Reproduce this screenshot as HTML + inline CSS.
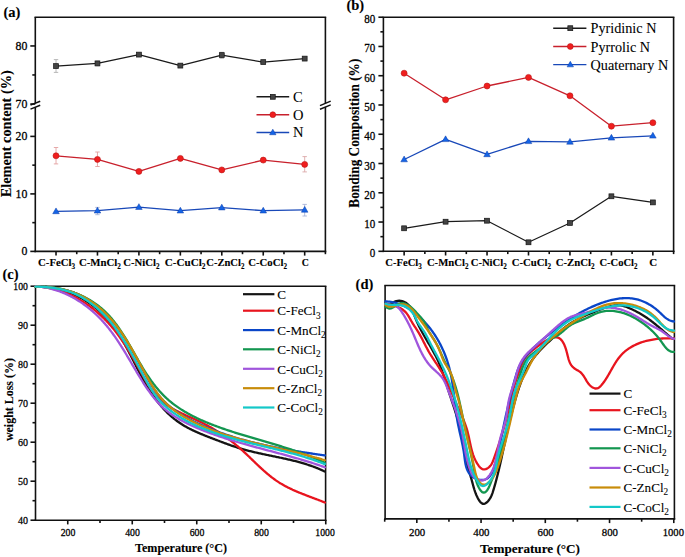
<!DOCTYPE html>
<html><head><meta charset="utf-8"><title>Figure</title>
<style>html,body{margin:0;padding:0;background:#fff;}svg{display:block;}svg text{stroke:#000;stroke-width:0.28px;}svg text.b{stroke-width:0.12px;}svg text.l{stroke-width:0.08px;}</style></head>
<body><svg width="685" height="557" viewBox="0 0 685 557">
<rect width="685" height="557" fill="#fff"/>
<line x1="34.5" y1="17.2" x2="326.2" y2="17.2" stroke="#111" stroke-width="1.6" />
<line x1="35.3" y1="17.2" x2="35.3" y2="103.2" stroke="#111" stroke-width="1.6" />
<line x1="35.3" y1="107.2" x2="35.3" y2="252.2" stroke="#111" stroke-width="1.6" />
<line x1="325.4" y1="17.2" x2="325.4" y2="103.3" stroke="#111" stroke-width="1.6" />
<line x1="325.4" y1="107.1" x2="325.4" y2="252.2" stroke="#111" stroke-width="1.6" />
<line x1="34.5" y1="251.4" x2="326.2" y2="251.4" stroke="#111" stroke-width="1.6" />
<line x1="30.5" y1="105.1" x2="40.2" y2="101.3" stroke="#111" stroke-width="1.5" />
<line x1="30.5" y1="109.1" x2="40.2" y2="105.3" stroke="#111" stroke-width="1.5" />
<line x1="320" y1="105.6" x2="330.7" y2="101.1" stroke="#111" stroke-width="1.5" />
<line x1="320" y1="109.3" x2="330.7" y2="104.9" stroke="#111" stroke-width="1.5" />
<line x1="30.3" y1="45.95" x2="35.3" y2="45.95" stroke="#111" stroke-width="1.6" />
<line x1="32.3" y1="74.95" x2="35.3" y2="74.95" stroke="#111" stroke-width="1.6" />
<line x1="30.3" y1="104" x2="35.3" y2="104" stroke="#111" stroke-width="1.6" />
<line x1="30.3" y1="136.4" x2="35.3" y2="136.4" stroke="#111" stroke-width="1.6" />
<line x1="30.3" y1="193.9" x2="35.3" y2="193.9" stroke="#111" stroke-width="1.6" />
<line x1="30.3" y1="251.4" x2="35.3" y2="251.4" stroke="#111" stroke-width="1.6" />
<line x1="32.3" y1="165.15" x2="35.3" y2="165.15" stroke="#111" stroke-width="1.6" />
<line x1="32.3" y1="222.65" x2="35.3" y2="222.65" stroke="#111" stroke-width="1.6" />
<text x="27.3" y="49.95" font-family='"Liberation Serif", serif' font-size="11.8" font-weight="normal" text-anchor="end" fill="#000" >80</text>
<text x="27.3" y="108" font-family='"Liberation Serif", serif' font-size="11.8" font-weight="normal" text-anchor="end" fill="#000" >70</text>
<text x="27.3" y="140.4" font-family='"Liberation Serif", serif' font-size="11.8" font-weight="normal" text-anchor="end" fill="#000" >20</text>
<text x="27.3" y="197.9" font-family='"Liberation Serif", serif' font-size="11.8" font-weight="normal" text-anchor="end" fill="#000" >10</text>
<text x="27.3" y="255.4" font-family='"Liberation Serif", serif' font-size="11.8" font-weight="normal" text-anchor="end" fill="#000" >0</text>
<line x1="56.02" y1="251.4" x2="56.02" y2="255.6" stroke="#111" stroke-width="1.6" />
<line x1="97.46" y1="251.4" x2="97.46" y2="255.6" stroke="#111" stroke-width="1.6" />
<line x1="138.91" y1="251.4" x2="138.91" y2="255.6" stroke="#111" stroke-width="1.6" />
<line x1="180.35" y1="251.4" x2="180.35" y2="255.6" stroke="#111" stroke-width="1.6" />
<line x1="221.79" y1="251.4" x2="221.79" y2="255.6" stroke="#111" stroke-width="1.6" />
<line x1="263.24" y1="251.4" x2="263.24" y2="255.6" stroke="#111" stroke-width="1.6" />
<line x1="304.68" y1="251.4" x2="304.68" y2="255.6" stroke="#111" stroke-width="1.6" />
<line x1="76.74" y1="251.4" x2="76.74" y2="254.2" stroke="#111" stroke-width="1.6" />
<line x1="118.19" y1="251.4" x2="118.19" y2="254.2" stroke="#111" stroke-width="1.6" />
<line x1="159.63" y1="251.4" x2="159.63" y2="254.2" stroke="#111" stroke-width="1.6" />
<line x1="201.07" y1="251.4" x2="201.07" y2="254.2" stroke="#111" stroke-width="1.6" />
<line x1="242.51" y1="251.4" x2="242.51" y2="254.2" stroke="#111" stroke-width="1.6" />
<line x1="283.96" y1="251.4" x2="283.96" y2="254.2" stroke="#111" stroke-width="1.6" />
<line x1="325.4" y1="251.4" x2="325.4" y2="254.2" stroke="#111" stroke-width="1.6" />
<text class="b" x="38.1" y="266" font-family='"Liberation Serif", serif' font-size="11.4" font-weight="bold" text-anchor="start" textLength="37.1" lengthAdjust="spacingAndGlyphs">C-FeCl<tspan font-size="7.6" dy="2.9">3</tspan></text>
<text class="b" x="78.9" y="266" font-family='"Liberation Serif", serif' font-size="11.4" font-weight="bold" text-anchor="start" textLength="42" lengthAdjust="spacingAndGlyphs">C-MnCl<tspan font-size="7.6" dy="2.9">2</tspan></text>
<text class="b" x="123.3" y="266" font-family='"Liberation Serif", serif' font-size="11.4" font-weight="bold" text-anchor="start" textLength="36.2" lengthAdjust="spacingAndGlyphs">C-NiCl<tspan font-size="7.6" dy="2.9">2</tspan></text>
<text class="b" x="164.8" y="266" font-family='"Liberation Serif", serif' font-size="11.4" font-weight="bold" text-anchor="start" textLength="40.7" lengthAdjust="spacingAndGlyphs">C-CuCl<tspan font-size="7.6" dy="2.9">2</tspan></text>
<text class="b" x="206.3" y="266" font-family='"Liberation Serif", serif' font-size="11.4" font-weight="bold" text-anchor="start" textLength="38.1" lengthAdjust="spacingAndGlyphs">C-ZnCl<tspan font-size="7.6" dy="2.9">2</tspan></text>
<text class="b" x="248.3" y="266" font-family='"Liberation Serif", serif' font-size="11.4" font-weight="bold" text-anchor="start" textLength="38.7" lengthAdjust="spacingAndGlyphs">C-CoCl<tspan font-size="7.6" dy="2.9">2</tspan></text>
<text class="b" x="301.7" y="266" font-family='"Liberation Serif", serif' font-size="11.4" font-weight="bold" text-anchor="start" textLength="7.1" lengthAdjust="spacingAndGlyphs">C<tspan font-size="7.6" dy="2.9"></tspan></text>
<text class="b" transform="translate(10.6,133.8) rotate(-90)" font-family='"Liberation Serif", serif' font-size="14.6" font-weight="bold" text-anchor="middle" textLength="127" lengthAdjust="spacingAndGlyphs">Element content (%)</text>
<text class="b" x="3.4" y="17.3" font-family='"Liberation Serif", serif' font-size="14.5" font-weight="bold" text-anchor="start" fill="#000" >(a)</text>
<line x1="56.02" y1="59.6" x2="56.02" y2="72.4" stroke="#b0b0b0" stroke-width="0.9" />
<line x1="53.82" y1="59.6" x2="58.22" y2="59.6" stroke="#b0b0b0" stroke-width="0.9" />
<line x1="53.82" y1="72.4" x2="58.22" y2="72.4" stroke="#b0b0b0" stroke-width="0.9" />
<line x1="97.46" y1="61.1" x2="97.46" y2="65.9" stroke="#b0b0b0" stroke-width="0.9" />
<line x1="95.26" y1="61.1" x2="99.66" y2="61.1" stroke="#b0b0b0" stroke-width="0.9" />
<line x1="95.26" y1="65.9" x2="99.66" y2="65.9" stroke="#b0b0b0" stroke-width="0.9" />
<line x1="221.79" y1="52.3" x2="221.79" y2="58.3" stroke="#b0b0b0" stroke-width="0.9" />
<line x1="219.59" y1="52.3" x2="223.99" y2="52.3" stroke="#b0b0b0" stroke-width="0.9" />
<line x1="219.59" y1="58.3" x2="223.99" y2="58.3" stroke="#b0b0b0" stroke-width="0.9" />
<line x1="56.02" y1="147.5" x2="56.02" y2="163.9" stroke="#e3a0a0" stroke-width="0.9" />
<line x1="53.82" y1="147.5" x2="58.22" y2="147.5" stroke="#e3a0a0" stroke-width="0.9" />
<line x1="53.82" y1="163.9" x2="58.22" y2="163.9" stroke="#e3a0a0" stroke-width="0.9" />
<line x1="97.46" y1="152" x2="97.46" y2="166.5" stroke="#e3a0a0" stroke-width="0.9" />
<line x1="95.26" y1="152" x2="99.66" y2="152" stroke="#e3a0a0" stroke-width="0.9" />
<line x1="95.26" y1="166.5" x2="99.66" y2="166.5" stroke="#e3a0a0" stroke-width="0.9" />
<line x1="304.68" y1="156.6" x2="304.68" y2="171.9" stroke="#dba8a8" stroke-width="0.9" />
<line x1="302.48" y1="156.6" x2="306.88" y2="156.6" stroke="#dba8a8" stroke-width="0.9" />
<line x1="302.48" y1="171.9" x2="306.88" y2="171.9" stroke="#dba8a8" stroke-width="0.9" />
<line x1="97.46" y1="207.4" x2="97.46" y2="214.7" stroke="#a8b4d8" stroke-width="0.9" />
<line x1="95.26" y1="207.4" x2="99.66" y2="207.4" stroke="#a8b4d8" stroke-width="0.9" />
<line x1="95.26" y1="214.7" x2="99.66" y2="214.7" stroke="#a8b4d8" stroke-width="0.9" />
<line x1="304.68" y1="204.4" x2="304.68" y2="216" stroke="#a8b4d8" stroke-width="0.9" />
<line x1="302.48" y1="204.4" x2="306.88" y2="204.4" stroke="#a8b4d8" stroke-width="0.9" />
<line x1="302.48" y1="216" x2="306.88" y2="216" stroke="#a8b4d8" stroke-width="0.9" />
<path d="M56.02,66.1 L97.46,63.4 L138.91,54.6 L180.35,65.6 L221.79,55.1 L263.24,62.1 L304.68,58.6" fill="none" stroke="#1a1a1a" stroke-width="1.25" stroke-linejoin="round"/>
<path d="M56.02,155.8 L97.46,159.4 L138.91,171.4 L180.35,158.4 L221.79,169.9 L263.24,160.1 L304.68,164.4" fill="none" stroke="#c8202c" stroke-width="1.3" stroke-linejoin="round"/>
<path d="M56.02,211.4 L97.46,210.7 L138.91,207.1 L180.35,210.7 L221.79,207.6 L263.24,210.7 L304.68,209.9" fill="none" stroke="#1848b8" stroke-width="1.3" stroke-linejoin="round"/>
<rect x="53.57" y="63.65" width="4.9" height="4.9" fill="#444" stroke="#151515" stroke-width="0.7"/>
<rect x="95.01" y="60.95" width="4.9" height="4.9" fill="#444" stroke="#151515" stroke-width="0.7"/>
<rect x="136.46" y="52.15" width="4.9" height="4.9" fill="#444" stroke="#151515" stroke-width="0.7"/>
<rect x="177.9" y="63.15" width="4.9" height="4.9" fill="#444" stroke="#151515" stroke-width="0.7"/>
<rect x="219.34" y="52.65" width="4.9" height="4.9" fill="#444" stroke="#151515" stroke-width="0.7"/>
<rect x="260.79" y="59.65" width="4.9" height="4.9" fill="#444" stroke="#151515" stroke-width="0.7"/>
<rect x="302.23" y="56.15" width="4.9" height="4.9" fill="#444" stroke="#151515" stroke-width="0.7"/>
<circle cx="56.02" cy="155.8" r="3" fill="#f01e1e" stroke="#b81818" stroke-width="0.6"/>
<circle cx="97.46" cy="159.4" r="3" fill="#f01e1e" stroke="#b81818" stroke-width="0.6"/>
<circle cx="138.91" cy="171.4" r="3" fill="#f01e1e" stroke="#b81818" stroke-width="0.6"/>
<circle cx="180.35" cy="158.4" r="3" fill="#f01e1e" stroke="#b81818" stroke-width="0.6"/>
<circle cx="221.79" cy="169.9" r="3" fill="#f01e1e" stroke="#b81818" stroke-width="0.6"/>
<circle cx="263.24" cy="160.1" r="3" fill="#f01e1e" stroke="#b81818" stroke-width="0.6"/>
<circle cx="304.68" cy="164.4" r="3" fill="#f01e1e" stroke="#b81818" stroke-width="0.6"/>
<path d="M56.02,207.95 L59.32,213.7 L52.72,213.7 Z" fill="#1464e6" stroke="#0c3ca8" stroke-width="0.5" stroke-linejoin="miter"/>
<path d="M97.46,207.25 L100.76,213 L94.16,213 Z" fill="#1464e6" stroke="#0c3ca8" stroke-width="0.5" stroke-linejoin="miter"/>
<path d="M138.91,203.65 L142.21,209.4 L135.61,209.4 Z" fill="#1464e6" stroke="#0c3ca8" stroke-width="0.5" stroke-linejoin="miter"/>
<path d="M180.35,207.25 L183.65,213 L177.05,213 Z" fill="#1464e6" stroke="#0c3ca8" stroke-width="0.5" stroke-linejoin="miter"/>
<path d="M221.79,204.15 L225.09,209.9 L218.49,209.9 Z" fill="#1464e6" stroke="#0c3ca8" stroke-width="0.5" stroke-linejoin="miter"/>
<path d="M263.24,207.25 L266.54,213 L259.94,213 Z" fill="#1464e6" stroke="#0c3ca8" stroke-width="0.5" stroke-linejoin="miter"/>
<path d="M304.68,206.45 L307.98,212.2 L301.38,212.2 Z" fill="#1464e6" stroke="#0c3ca8" stroke-width="0.5" stroke-linejoin="miter"/>
<line x1="256.5" y1="96.8" x2="289.2" y2="96.8" stroke="#1a1a1a" stroke-width="1.4" />
<rect x="270.35" y="94.35" width="4.9" height="4.9" fill="#444" stroke="#151515" stroke-width="0.7"/>
<text x="293" y="101.7" font-family='"Liberation Serif", serif' font-size="14.5" font-weight="normal" text-anchor="start" fill="#000" class="l">C</text>
<line x1="256.5" y1="114.7" x2="289.2" y2="114.7" stroke="#c8202c" stroke-width="1.4" />
<circle cx="272.8" cy="114.7" r="2.9" fill="#f01e1e" stroke="#b81818" stroke-width="0.6"/>
<text x="293" y="119.6" font-family='"Liberation Serif", serif' font-size="14.5" font-weight="normal" text-anchor="start" fill="#000" class="l">O</text>
<line x1="256.5" y1="132.5" x2="289.2" y2="132.5" stroke="#1848b8" stroke-width="1.4" />
<path d="M272.8,129.16 L276,134.73 L269.6,134.73 Z" fill="#1464e6" stroke="#0c3ca8" stroke-width="0.5" stroke-linejoin="miter"/>
<text x="293" y="137.4" font-family='"Liberation Serif", serif' font-size="14.5" font-weight="normal" text-anchor="start" fill="#000" class="l">N</text>
<line x1="382.6" y1="17.2" x2="674.4" y2="17.2" stroke="#111" stroke-width="1.6" />
<line x1="383.4" y1="17.2" x2="383.4" y2="252.1" stroke="#111" stroke-width="1.6" />
<line x1="673.6" y1="17.2" x2="673.6" y2="252.1" stroke="#111" stroke-width="1.6" />
<line x1="382.6" y1="251.3" x2="674.4" y2="251.3" stroke="#111" stroke-width="1.6" />
<line x1="378.4" y1="251.3" x2="383.4" y2="251.3" stroke="#111" stroke-width="1.6" />
<text x="375.2" y="257.3" font-family='"Liberation Serif", serif' font-size="11.5" font-weight="normal" text-anchor="end" fill="#000" textLength="5.5" lengthAdjust="spacingAndGlyphs" >0</text>
<line x1="378.4" y1="222.04" x2="383.4" y2="222.04" stroke="#111" stroke-width="1.6" />
<text x="375.2" y="228.04" font-family='"Liberation Serif", serif' font-size="11.5" font-weight="normal" text-anchor="end" fill="#000" textLength="11" lengthAdjust="spacingAndGlyphs" >10</text>
<line x1="378.4" y1="192.78" x2="383.4" y2="192.78" stroke="#111" stroke-width="1.6" />
<text x="375.2" y="198.78" font-family='"Liberation Serif", serif' font-size="11.5" font-weight="normal" text-anchor="end" fill="#000" textLength="11" lengthAdjust="spacingAndGlyphs" >20</text>
<line x1="378.4" y1="163.51" x2="383.4" y2="163.51" stroke="#111" stroke-width="1.6" />
<text x="375.2" y="169.51" font-family='"Liberation Serif", serif' font-size="11.5" font-weight="normal" text-anchor="end" fill="#000" textLength="11" lengthAdjust="spacingAndGlyphs" >30</text>
<line x1="378.4" y1="134.25" x2="383.4" y2="134.25" stroke="#111" stroke-width="1.6" />
<text x="375.2" y="140.25" font-family='"Liberation Serif", serif' font-size="11.5" font-weight="normal" text-anchor="end" fill="#000" textLength="11" lengthAdjust="spacingAndGlyphs" >40</text>
<line x1="378.4" y1="104.99" x2="383.4" y2="104.99" stroke="#111" stroke-width="1.6" />
<text x="375.2" y="110.99" font-family='"Liberation Serif", serif' font-size="11.5" font-weight="normal" text-anchor="end" fill="#000" textLength="11" lengthAdjust="spacingAndGlyphs" >50</text>
<line x1="378.4" y1="75.72" x2="383.4" y2="75.72" stroke="#111" stroke-width="1.6" />
<text x="375.2" y="81.72" font-family='"Liberation Serif", serif' font-size="11.5" font-weight="normal" text-anchor="end" fill="#000" textLength="11" lengthAdjust="spacingAndGlyphs" >60</text>
<line x1="378.4" y1="46.46" x2="383.4" y2="46.46" stroke="#111" stroke-width="1.6" />
<text x="375.2" y="52.46" font-family='"Liberation Serif", serif' font-size="11.5" font-weight="normal" text-anchor="end" fill="#000" textLength="11" lengthAdjust="spacingAndGlyphs" >70</text>
<line x1="378.4" y1="17.2" x2="383.4" y2="17.2" stroke="#111" stroke-width="1.6" />
<text x="375.2" y="23.2" font-family='"Liberation Serif", serif' font-size="11.5" font-weight="normal" text-anchor="end" fill="#000" textLength="11" lengthAdjust="spacingAndGlyphs" >80</text>
<line x1="380.4" y1="236.67" x2="383.4" y2="236.67" stroke="#111" stroke-width="1.6" />
<line x1="380.4" y1="207.41" x2="383.4" y2="207.41" stroke="#111" stroke-width="1.6" />
<line x1="380.4" y1="178.14" x2="383.4" y2="178.14" stroke="#111" stroke-width="1.6" />
<line x1="380.4" y1="148.88" x2="383.4" y2="148.88" stroke="#111" stroke-width="1.6" />
<line x1="380.4" y1="119.62" x2="383.4" y2="119.62" stroke="#111" stroke-width="1.6" />
<line x1="380.4" y1="90.36" x2="383.4" y2="90.36" stroke="#111" stroke-width="1.6" />
<line x1="380.4" y1="61.09" x2="383.4" y2="61.09" stroke="#111" stroke-width="1.6" />
<line x1="380.4" y1="31.83" x2="383.4" y2="31.83" stroke="#111" stroke-width="1.6" />
<line x1="404.13" y1="251.3" x2="404.13" y2="255.5" stroke="#111" stroke-width="1.6" />
<line x1="445.59" y1="251.3" x2="445.59" y2="255.5" stroke="#111" stroke-width="1.6" />
<line x1="487.04" y1="251.3" x2="487.04" y2="255.5" stroke="#111" stroke-width="1.6" />
<line x1="528.5" y1="251.3" x2="528.5" y2="255.5" stroke="#111" stroke-width="1.6" />
<line x1="569.96" y1="251.3" x2="569.96" y2="255.5" stroke="#111" stroke-width="1.6" />
<line x1="611.41" y1="251.3" x2="611.41" y2="255.5" stroke="#111" stroke-width="1.6" />
<line x1="652.87" y1="251.3" x2="652.87" y2="255.5" stroke="#111" stroke-width="1.6" />
<line x1="424.86" y1="251.3" x2="424.86" y2="254.1" stroke="#111" stroke-width="1.6" />
<line x1="466.31" y1="251.3" x2="466.31" y2="254.1" stroke="#111" stroke-width="1.6" />
<line x1="507.77" y1="251.3" x2="507.77" y2="254.1" stroke="#111" stroke-width="1.6" />
<line x1="549.23" y1="251.3" x2="549.23" y2="254.1" stroke="#111" stroke-width="1.6" />
<line x1="590.69" y1="251.3" x2="590.69" y2="254.1" stroke="#111" stroke-width="1.6" />
<line x1="632.14" y1="251.3" x2="632.14" y2="254.1" stroke="#111" stroke-width="1.6" />
<line x1="673.6" y1="251.3" x2="673.6" y2="254.1" stroke="#111" stroke-width="1.6" />
<text class="b" x="385.3" y="266.2" font-family='"Liberation Serif", serif' font-size="11.4" font-weight="bold" text-anchor="start" textLength="36.5" lengthAdjust="spacingAndGlyphs">C-FeCl<tspan font-size="7.6" dy="2.9">3</tspan></text>
<text class="b" x="426.9" y="266.2" font-family='"Liberation Serif", serif' font-size="11.4" font-weight="bold" text-anchor="start" textLength="41.6" lengthAdjust="spacingAndGlyphs">C-MnCl<tspan font-size="7.6" dy="2.9">2</tspan></text>
<text class="b" x="470.7" y="266.2" font-family='"Liberation Serif", serif' font-size="11.4" font-weight="bold" text-anchor="start" textLength="36.1" lengthAdjust="spacingAndGlyphs">C-NiCl<tspan font-size="7.6" dy="2.9">2</tspan></text>
<text class="b" x="511.8" y="266.2" font-family='"Liberation Serif", serif' font-size="11.4" font-weight="bold" text-anchor="start" textLength="39.3" lengthAdjust="spacingAndGlyphs">C-CuCl<tspan font-size="7.6" dy="2.9">2</tspan></text>
<text class="b" x="555.7" y="266.2" font-family='"Liberation Serif", serif' font-size="11.4" font-weight="bold" text-anchor="start" textLength="39" lengthAdjust="spacingAndGlyphs">C-ZnCl<tspan font-size="7.6" dy="2.9">2</tspan></text>
<text class="b" x="599.4" y="266.2" font-family='"Liberation Serif", serif' font-size="11.4" font-weight="bold" text-anchor="start" textLength="38.1" lengthAdjust="spacingAndGlyphs">C-CoCl<tspan font-size="7.6" dy="2.9">2</tspan></text>
<text class="b" x="649.2" y="266.2" font-family='"Liberation Serif", serif' font-size="11.4" font-weight="bold" text-anchor="start" textLength="7.9" lengthAdjust="spacingAndGlyphs">C<tspan font-size="7.6" dy="2.9"></tspan></text>
<text class="b" transform="translate(359.3,133.2) rotate(-90)" font-family='"Liberation Serif", serif' font-size="14.6" font-weight="bold" text-anchor="middle" textLength="149" lengthAdjust="spacingAndGlyphs">Bonding Composition (%)</text>
<text class="b" x="346.4" y="9.9" font-family='"Liberation Serif", serif' font-size="14.5" font-weight="bold" text-anchor="start" fill="#000" >(b)</text>
<path d="M404.13,228.3 L445.59,221.7 L487.04,220.7 L528.5,242.3 L569.96,223 L611.41,196.3 L652.87,202.4" fill="none" stroke="#1a1a1a" stroke-width="1.25" stroke-linejoin="round"/>
<path d="M404.13,73.2 L445.59,99.8 L487.04,86 L528.5,77.4 L569.96,95.8 L611.41,126.2 L652.87,122.7" fill="none" stroke="#c8202c" stroke-width="1.3" stroke-linejoin="round"/>
<path d="M404.13,159.5 L445.59,139.3 L487.04,154.4 L528.5,141.3 L569.96,141.9 L611.41,137.8 L652.87,135.8" fill="none" stroke="#1848b8" stroke-width="1.3" stroke-linejoin="round"/>
<rect x="401.68" y="225.85" width="4.9" height="4.9" fill="#444" stroke="#151515" stroke-width="0.7"/>
<rect x="443.14" y="219.25" width="4.9" height="4.9" fill="#444" stroke="#151515" stroke-width="0.7"/>
<rect x="484.59" y="218.25" width="4.9" height="4.9" fill="#444" stroke="#151515" stroke-width="0.7"/>
<rect x="526.05" y="239.85" width="4.9" height="4.9" fill="#444" stroke="#151515" stroke-width="0.7"/>
<rect x="567.51" y="220.55" width="4.9" height="4.9" fill="#444" stroke="#151515" stroke-width="0.7"/>
<rect x="608.96" y="193.85" width="4.9" height="4.9" fill="#444" stroke="#151515" stroke-width="0.7"/>
<rect x="650.42" y="199.95" width="4.9" height="4.9" fill="#444" stroke="#151515" stroke-width="0.7"/>
<circle cx="404.13" cy="73.2" r="3" fill="#f01e1e" stroke="#b81818" stroke-width="0.6"/>
<circle cx="445.59" cy="99.8" r="3" fill="#f01e1e" stroke="#b81818" stroke-width="0.6"/>
<circle cx="487.04" cy="86" r="3" fill="#f01e1e" stroke="#b81818" stroke-width="0.6"/>
<circle cx="528.5" cy="77.4" r="3" fill="#f01e1e" stroke="#b81818" stroke-width="0.6"/>
<circle cx="569.96" cy="95.8" r="3" fill="#f01e1e" stroke="#b81818" stroke-width="0.6"/>
<circle cx="611.41" cy="126.2" r="3" fill="#f01e1e" stroke="#b81818" stroke-width="0.6"/>
<circle cx="652.87" cy="122.7" r="3" fill="#f01e1e" stroke="#b81818" stroke-width="0.6"/>
<path d="M404.13,156.05 L407.43,161.8 L400.83,161.8 Z" fill="#1464e6" stroke="#0c3ca8" stroke-width="0.5" stroke-linejoin="miter"/>
<path d="M445.59,135.85 L448.89,141.6 L442.29,141.6 Z" fill="#1464e6" stroke="#0c3ca8" stroke-width="0.5" stroke-linejoin="miter"/>
<path d="M487.04,150.95 L490.34,156.7 L483.74,156.7 Z" fill="#1464e6" stroke="#0c3ca8" stroke-width="0.5" stroke-linejoin="miter"/>
<path d="M528.5,137.85 L531.8,143.6 L525.2,143.6 Z" fill="#1464e6" stroke="#0c3ca8" stroke-width="0.5" stroke-linejoin="miter"/>
<path d="M569.96,138.45 L573.26,144.2 L566.66,144.2 Z" fill="#1464e6" stroke="#0c3ca8" stroke-width="0.5" stroke-linejoin="miter"/>
<path d="M611.41,134.35 L614.71,140.1 L608.11,140.1 Z" fill="#1464e6" stroke="#0c3ca8" stroke-width="0.5" stroke-linejoin="miter"/>
<path d="M652.87,132.35 L656.17,138.1 L649.57,138.1 Z" fill="#1464e6" stroke="#0c3ca8" stroke-width="0.5" stroke-linejoin="miter"/>
<line x1="553.2" y1="28.2" x2="586.4" y2="28.2" stroke="#1a1a1a" stroke-width="1.4" />
<rect x="567.85" y="25.75" width="4.9" height="4.9" fill="#444" stroke="#151515" stroke-width="0.7"/>
<text x="590.6" y="33.2" font-family='"Liberation Serif", serif' font-size="14.2" font-weight="normal" text-anchor="start" fill="#000" class="l">Pyridinic N</text>
<line x1="553.2" y1="46.5" x2="586.4" y2="46.5" stroke="#c8202c" stroke-width="1.4" />
<circle cx="570.3" cy="46.5" r="2.9" fill="#f01e1e" stroke="#b81818" stroke-width="0.6"/>
<text x="590.6" y="51.5" font-family='"Liberation Serif", serif' font-size="14.2" font-weight="normal" text-anchor="start" fill="#000" class="l">Pyrrolic N</text>
<line x1="553.2" y1="64.6" x2="586.4" y2="64.6" stroke="#1848b8" stroke-width="1.4" />
<path d="M570.3,61.26 L573.5,66.83 L567.1,66.83 Z" fill="#1464e6" stroke="#0c3ca8" stroke-width="0.5" stroke-linejoin="miter"/>
<text x="590.6" y="69.6" font-family='"Liberation Serif", serif' font-size="14.2" font-weight="normal" text-anchor="start" fill="#000" class="l">Quaternary N</text>
<line x1="34.7" y1="286.2" x2="326.4" y2="286.2" stroke="#111" stroke-width="1.6" />
<line x1="35.5" y1="286.2" x2="35.5" y2="521" stroke="#111" stroke-width="1.6" />
<line x1="325.6" y1="286.2" x2="325.6" y2="521" stroke="#111" stroke-width="1.6" />
<line x1="34.7" y1="520.2" x2="326.4" y2="520.2" stroke="#111" stroke-width="1.6" />
<line x1="30.5" y1="520.2" x2="35.5" y2="520.2" stroke="#111" stroke-width="1.6" />
<text x="27.9" y="524.1" font-family='"Liberation Serif", serif' font-size="11.2" font-weight="normal" text-anchor="end" fill="#000" textLength="10" lengthAdjust="spacingAndGlyphs" >40</text>
<line x1="30.5" y1="481.2" x2="35.5" y2="481.2" stroke="#111" stroke-width="1.6" />
<text x="27.9" y="485.1" font-family='"Liberation Serif", serif' font-size="11.2" font-weight="normal" text-anchor="end" fill="#000" textLength="10" lengthAdjust="spacingAndGlyphs" >50</text>
<line x1="30.5" y1="442.2" x2="35.5" y2="442.2" stroke="#111" stroke-width="1.6" />
<text x="27.9" y="446.1" font-family='"Liberation Serif", serif' font-size="11.2" font-weight="normal" text-anchor="end" fill="#000" textLength="10" lengthAdjust="spacingAndGlyphs" >60</text>
<line x1="30.5" y1="403.2" x2="35.5" y2="403.2" stroke="#111" stroke-width="1.6" />
<text x="27.9" y="407.1" font-family='"Liberation Serif", serif' font-size="11.2" font-weight="normal" text-anchor="end" fill="#000" textLength="10" lengthAdjust="spacingAndGlyphs" >70</text>
<line x1="30.5" y1="364.2" x2="35.5" y2="364.2" stroke="#111" stroke-width="1.6" />
<text x="27.9" y="368.1" font-family='"Liberation Serif", serif' font-size="11.2" font-weight="normal" text-anchor="end" fill="#000" textLength="10" lengthAdjust="spacingAndGlyphs" >80</text>
<line x1="30.5" y1="325.2" x2="35.5" y2="325.2" stroke="#111" stroke-width="1.6" />
<text x="27.9" y="329.1" font-family='"Liberation Serif", serif' font-size="11.2" font-weight="normal" text-anchor="end" fill="#000" textLength="10" lengthAdjust="spacingAndGlyphs" >90</text>
<line x1="30.5" y1="286.2" x2="35.5" y2="286.2" stroke="#111" stroke-width="1.6" />
<text x="27.9" y="290.1" font-family='"Liberation Serif", serif' font-size="11.2" font-weight="normal" text-anchor="end" fill="#000" textLength="14.6" lengthAdjust="spacingAndGlyphs" >100</text>
<line x1="32.5" y1="500.7" x2="35.5" y2="500.7" stroke="#111" stroke-width="1.6" />
<line x1="32.5" y1="461.7" x2="35.5" y2="461.7" stroke="#111" stroke-width="1.6" />
<line x1="32.5" y1="422.7" x2="35.5" y2="422.7" stroke="#111" stroke-width="1.6" />
<line x1="32.5" y1="383.7" x2="35.5" y2="383.7" stroke="#111" stroke-width="1.6" />
<line x1="32.5" y1="344.7" x2="35.5" y2="344.7" stroke="#111" stroke-width="1.6" />
<line x1="32.5" y1="305.7" x2="35.5" y2="305.7" stroke="#111" stroke-width="1.6" />
<line x1="67.75" y1="520.2" x2="67.75" y2="524.4" stroke="#111" stroke-width="1.6" />
<text x="68.05" y="535.9" font-family='"Liberation Serif", serif' font-size="10.8" font-weight="normal" text-anchor="middle" fill="#000" textLength="14.7" lengthAdjust="spacingAndGlyphs" >200</text>
<line x1="132.25" y1="520.2" x2="132.25" y2="524.4" stroke="#111" stroke-width="1.6" />
<text x="132.55" y="535.9" font-family='"Liberation Serif", serif' font-size="10.8" font-weight="normal" text-anchor="middle" fill="#000" textLength="14.7" lengthAdjust="spacingAndGlyphs" >400</text>
<line x1="196.75" y1="520.2" x2="196.75" y2="524.4" stroke="#111" stroke-width="1.6" />
<text x="197.05" y="535.9" font-family='"Liberation Serif", serif' font-size="10.8" font-weight="normal" text-anchor="middle" fill="#000" textLength="14.7" lengthAdjust="spacingAndGlyphs" >600</text>
<line x1="261.25" y1="520.2" x2="261.25" y2="524.4" stroke="#111" stroke-width="1.6" />
<text x="261.55" y="535.9" font-family='"Liberation Serif", serif' font-size="10.8" font-weight="normal" text-anchor="middle" fill="#000" textLength="14.7" lengthAdjust="spacingAndGlyphs" >800</text>
<line x1="325.75" y1="520.2" x2="325.75" y2="524.4" stroke="#111" stroke-width="1.6" />
<text x="325.05" y="535.9" font-family='"Liberation Serif", serif' font-size="10.8" font-weight="normal" text-anchor="middle" fill="#000" textLength="19.4" lengthAdjust="spacingAndGlyphs" >1000</text>
<line x1="100" y1="520.2" x2="100" y2="523" stroke="#111" stroke-width="1.6" />
<line x1="164.5" y1="520.2" x2="164.5" y2="523" stroke="#111" stroke-width="1.6" />
<line x1="229" y1="520.2" x2="229" y2="523" stroke="#111" stroke-width="1.6" />
<line x1="293.5" y1="520.2" x2="293.5" y2="523" stroke="#111" stroke-width="1.6" />
<text class="b" transform="translate(12.6,399.6) rotate(-90)" font-family='"Liberation Serif", serif' font-size="12" font-weight="bold" text-anchor="middle" textLength="83" lengthAdjust="spacingAndGlyphs">weight Loss (%)</text>
<text class="b" x="181" y="552.3" font-family='"Liberation Serif", serif' font-size="12" font-weight="bold" text-anchor="middle" fill="#000" textLength="92" lengthAdjust="spacingAndGlyphs" >Temperature (°C)</text>
<text class="b" x="2.4" y="278.8" font-family='"Liberation Serif", serif' font-size="14.5" font-weight="bold" text-anchor="start" fill="#000" >(c)</text>
<path d="M35.44,286.74 L36.37,286.70 L37.29,286.67 L38.22,286.66 L39.14,286.65 L40.06,286.66 L40.98,286.68 L41.90,286.71 L42.81,286.74 L43.73,286.79 L44.64,286.85 L45.56,286.92 L46.47,287.00 L47.38,287.10 L48.28,287.20 L49.19,287.31 L50.09,287.43 L51.00,287.56 L51.90,287.70 L52.80,287.85 L53.69,288.01 L54.59,288.18 L55.48,288.36 L56.37,288.55 L57.26,288.75 L58.14,288.96 L59.02,289.18 L59.90,289.40 L60.78,289.64 L61.66,289.89 L62.53,290.14 L63.40,290.40 L64.26,290.68 L65.13,290.96 L65.99,291.25 L66.85,291.55 L67.70,291.86 L68.55,292.17 L69.40,292.50 L70.25,292.83 L71.09,293.17 L71.93,293.52 L72.76,293.88 L73.60,294.25 L74.42,294.62 L75.25,295.01 L76.07,295.40 L76.89,295.80 L77.70,296.20 L78.51,296.62 L79.32,297.04 L80.12,297.47 L80.92,297.91 L81.71,298.35 L82.50,298.80 L83.29,299.26 L84.07,299.73 L84.85,300.20 L85.62,300.69 L86.39,301.17 L87.15,301.67 L87.91,302.17 L88.67,302.68 L89.42,303.20 L90.16,303.72 L90.90,304.25 L91.64,304.79 L92.37,305.33 L93.09,305.88 L93.81,306.44 L94.53,307.00 L95.24,307.57 L95.94,308.14 L96.64,308.72 L97.34,309.31 L98.03,309.91 L98.71,310.50 L99.39,311.11 L100.06,311.72 L100.73,312.34 L101.39,312.96 L102.05,313.59 L102.70,314.22 L103.34,314.86 L103.98,315.50 L104.61,316.15 L105.23,316.81 L105.85,317.47 L106.47,318.13 L107.07,318.80 L107.67,319.48 L108.27,320.16 L108.86,320.84 L109.44,321.53 L110.01,322.23 L110.58,322.93 L111.15,323.63 L111.70,324.34 L112.26,325.05 L112.80,325.77 L113.34,326.49 L113.88,327.21 L114.41,327.94 L114.93,328.67 L115.45,329.41 L115.97,330.15 L116.48,330.89 L116.99,331.64 L117.49,332.39 L117.98,333.15 L118.48,333.91 L118.97,334.67 L119.45,335.43 L119.93,336.20 L120.41,336.97 L120.88,337.74 L121.35,338.51 L121.81,339.29 L122.28,340.07 L122.74,340.86 L123.19,341.64 L123.65,342.43 L124.10,343.22 L124.54,344.01 L124.99,344.81 L125.43,345.60 L125.87,346.40 L126.31,347.20 L126.74,348.00 L127.18,348.81 L127.61,349.61 L128.04,350.42 L128.46,351.23 L128.89,352.04 L129.32,352.85 L129.74,353.66 L130.16,354.47 L130.58,355.28 L131.00,356.10 L131.42,356.91 L131.84,357.73 L132.26,358.55 L132.67,359.36 L133.09,360.18 L133.51,361.00 L133.92,361.82 L134.34,362.63 L134.76,363.45 L135.17,364.27 L135.59,365.09 L136.00,365.91 L136.42,366.72 L136.84,367.54 L137.26,368.36 L137.68,369.17 L138.10,369.99 L138.52,370.80 L138.94,371.62 L139.37,372.43 L139.80,373.24 L140.22,374.06 L140.65,374.87 L141.08,375.67 L141.52,376.48 L141.95,377.29 L142.39,378.09 L142.83,378.90 L143.27,379.70 L143.71,380.50 L144.16,381.29 L144.61,382.09 L145.06,382.88 L145.52,383.68 L145.98,384.47 L146.44,385.25 L146.90,386.04 L147.37,386.82 L147.84,387.60 L148.32,388.38 L148.80,389.15 L149.28,389.92 L149.77,390.69 L150.26,391.46 L150.76,392.22 L151.26,392.98 L151.76,393.74 L152.27,394.49 L152.78,395.24 L153.30,395.99 L153.82,396.73 L154.35,397.47 L154.88,398.20 L155.41,398.93 L155.95,399.66 L156.50,400.38 L157.05,401.10 L157.60,401.82 L158.16,402.53 L158.72,403.23 L159.29,403.93 L159.87,404.63 L160.44,405.32 L161.03,406.00 L161.62,406.68 L162.21,407.36 L162.81,408.03 L163.41,408.69 L164.02,409.35 L164.63,410.01 L165.25,410.66 L165.88,411.30 L166.51,411.94 L167.14,412.57 L167.78,413.19 L168.43,413.81 L169.08,414.42 L169.74,415.03 L170.40,415.63 L171.07,416.22 L171.74,416.81 L172.42,417.39 L173.11,417.96 L173.80,418.53 L174.49,419.09 L175.20,419.64 L175.91,420.19 L176.62,420.72 L177.34,421.25 L178.07,421.78 L178.80,422.29 L179.54,422.80 L180.28,423.30 L181.04,423.79 L181.79,424.27 L182.56,424.75 L183.33,425.22 L184.10,425.68 L184.88,426.14 L185.66,426.59 L186.45,427.03 L187.25,427.46 L188.05,427.89 L188.85,428.32 L189.66,428.73 L190.47,429.15 L191.29,429.55 L192.11,429.96 L192.93,430.35 L193.76,430.74 L194.59,431.13 L195.42,431.51 L196.26,431.89 L197.10,432.26 L197.94,432.63 L198.79,433.00 L199.63,433.36 L200.48,433.72 L201.33,434.08 L202.19,434.43 L203.04,434.78 L203.90,435.13 L204.76,435.47 L205.61,435.82 L206.47,436.16 L207.34,436.49 L208.20,436.83 L209.06,437.17 L209.92,437.50 L210.78,437.83 L211.65,438.16 L212.51,438.49 L213.37,438.82 L214.23,439.15 L215.09,439.48 L215.95,439.81 L216.81,440.14 L217.67,440.47 L218.53,440.80 L219.39,441.12 L220.25,441.45 L221.10,441.77 L221.96,442.10 L222.82,442.42 L223.67,442.74 L224.53,443.06 L225.38,443.38 L226.24,443.69 L227.10,444.01 L227.95,444.32 L228.81,444.63 L229.67,444.93 L230.52,445.24 L231.38,445.54 L232.24,445.84 L233.10,446.13 L233.96,446.42 L234.82,446.71 L235.68,447.00 L236.54,447.28 L237.40,447.56 L238.27,447.83 L239.13,448.10 L240.00,448.37 L240.87,448.63 L241.73,448.88 L242.60,449.14 L243.47,449.38 L244.35,449.63 L245.22,449.87 L246.09,450.11 L246.97,450.34 L247.84,450.57 L248.72,450.80 L249.60,451.02 L250.48,451.24 L251.35,451.46 L252.23,451.67 L253.12,451.88 L254.00,452.09 L254.88,452.30 L255.76,452.50 L256.65,452.70 L257.53,452.90 L258.41,453.10 L259.30,453.30 L260.19,453.49 L261.07,453.68 L261.96,453.87 L262.85,454.06 L263.73,454.25 L264.62,454.44 L265.51,454.63 L266.40,454.81 L267.29,455.00 L268.17,455.18 L269.06,455.36 L269.95,455.55 L270.84,455.73 L271.73,455.91 L272.62,456.09 L273.51,456.27 L274.40,456.46 L275.29,456.64 L276.18,456.82 L277.07,457.01 L277.96,457.19 L278.84,457.38 L279.73,457.56 L280.62,457.75 L281.51,457.94 L282.40,458.13 L283.28,458.32 L284.17,458.51 L285.06,458.71 L285.94,458.90 L286.83,459.10 L287.71,459.30 L288.60,459.51 L289.48,459.71 L290.37,459.92 L291.25,460.13 L292.13,460.34 L293.01,460.55 L293.89,460.77 L294.77,460.99 L295.65,461.22 L296.53,461.44 L297.41,461.68 L298.29,461.91 L299.16,462.15 L300.04,462.39 L300.91,462.63 L301.78,462.88 L302.65,463.14 L303.52,463.39 L304.39,463.66 L305.26,463.92 L306.13,464.19 L306.99,464.47 L307.86,464.75 L308.72,465.04 L309.58,465.33 L310.44,465.62 L311.30,465.92 L312.16,466.23 L313.02,466.54 L313.87,466.86 L314.72,467.19 L315.58,467.51 L316.43,467.85 L317.27,468.19 L318.12,468.54 L318.97,468.90 L319.81,469.26 L320.65,469.63 L321.49,470.00 L322.33,470.38 L323.17,470.77 L324.00,471.17 L324.83,471.57" fill="none" stroke="#141414" stroke-width="2.3" stroke-linejoin="round" stroke-linecap="round"/>
<path d="M35.47,286.40 L36.42,286.45 L37.37,286.50 L38.31,286.57 L39.26,286.65 L40.20,286.73 L41.14,286.83 L42.07,286.93 L43.01,287.05 L43.94,287.17 L44.87,287.30 L45.80,287.45 L46.72,287.60 L47.65,287.76 L48.57,287.93 L49.48,288.11 L50.40,288.30 L51.31,288.50 L52.22,288.70 L53.13,288.92 L54.04,289.14 L54.94,289.38 L55.84,289.62 L56.73,289.87 L57.63,290.13 L58.52,290.39 L59.41,290.67 L60.29,290.96 L61.17,291.25 L62.05,291.55 L62.93,291.86 L63.80,292.18 L64.67,292.50 L65.54,292.84 L66.40,293.18 L67.26,293.53 L68.12,293.89 L68.97,294.25 L69.82,294.63 L70.67,295.01 L71.51,295.40 L72.35,295.79 L73.19,296.20 L74.02,296.61 L74.85,297.03 L75.68,297.46 L76.50,297.89 L77.32,298.33 L78.13,298.78 L78.94,299.24 L79.75,299.70 L80.55,300.17 L81.35,300.65 L82.15,301.13 L82.94,301.62 L83.72,302.12 L84.51,302.63 L85.28,303.14 L86.06,303.66 L86.83,304.18 L87.60,304.71 L88.36,305.25 L89.12,305.79 L89.87,306.34 L90.62,306.90 L91.37,307.46 L92.11,308.03 L92.84,308.60 L93.58,309.18 L94.31,309.77 L95.03,310.36 L95.75,310.96 L96.46,311.56 L97.17,312.17 L97.88,312.78 L98.58,313.40 L99.28,314.02 L99.97,314.65 L100.66,315.29 L101.35,315.92 L102.02,316.57 L102.70,317.22 L103.37,317.87 L104.03,318.53 L104.70,319.19 L105.35,319.85 L106.00,320.52 L106.65,321.20 L107.29,321.88 L107.93,322.56 L108.56,323.25 L109.19,323.94 L109.81,324.64 L110.43,325.34 L111.04,326.04 L111.65,326.75 L112.25,327.46 L112.85,328.17 L113.44,328.89 L114.03,329.61 L114.62,330.33 L115.19,331.06 L115.77,331.79 L116.34,332.52 L116.90,333.26 L117.46,333.99 L118.02,334.74 L118.57,335.48 L119.11,336.23 L119.66,336.98 L120.20,337.73 L120.73,338.49 L121.26,339.25 L121.79,340.01 L122.31,340.78 L122.83,341.54 L123.35,342.31 L123.86,343.09 L124.37,343.86 L124.88,344.64 L125.38,345.42 L125.88,346.20 L126.38,346.99 L126.88,347.77 L127.37,348.56 L127.86,349.35 L128.35,350.15 L128.83,350.94 L129.32,351.74 L129.80,352.54 L130.28,353.34 L130.75,354.15 L131.23,354.95 L131.70,355.76 L132.17,356.57 L132.64,357.38 L133.11,358.19 L133.58,359.01 L134.05,359.82 L134.51,360.64 L134.97,361.46 L135.44,362.28 L135.90,363.10 L136.36,363.93 L136.82,364.75 L137.28,365.58 L137.74,366.41 L138.19,367.24 L138.65,368.07 L139.11,368.90 L139.57,369.73 L140.03,370.57 L140.48,371.40 L140.94,372.24 L141.40,373.07 L141.86,373.91 L142.32,374.74 L142.78,375.58 L143.25,376.41 L143.72,377.24 L144.18,378.07 L144.66,378.90 L145.13,379.72 L145.61,380.54 L146.09,381.36 L146.58,382.18 L147.06,382.99 L147.56,383.80 L148.06,384.60 L148.56,385.39 L149.07,386.19 L149.58,386.97 L150.10,387.75 L150.63,388.53 L151.16,389.29 L151.70,390.05 L152.24,390.80 L152.79,391.55 L153.35,392.28 L153.92,393.01 L154.50,393.73 L155.08,394.44 L155.67,395.14 L156.27,395.83 L156.89,396.51 L157.50,397.18 L158.13,397.84 L158.77,398.49 L159.42,399.12 L160.08,399.74 L160.75,400.36 L161.43,400.95 L162.13,401.54 L162.83,402.12 L163.54,402.69 L164.26,403.24 L164.99,403.79 L165.72,404.32 L166.47,404.85 L167.22,405.36 L167.99,405.87 L168.75,406.37 L169.53,406.86 L170.32,407.34 L171.11,407.81 L171.90,408.28 L172.71,408.74 L173.51,409.19 L174.33,409.64 L175.15,410.08 L175.97,410.52 L176.80,410.95 L177.64,411.37 L178.48,411.79 L179.32,412.21 L180.16,412.62 L181.01,413.03 L181.86,413.43 L182.72,413.83 L183.58,414.23 L184.44,414.63 L185.30,415.02 L186.16,415.42 L187.02,415.81 L187.89,416.20 L188.76,416.59 L189.62,416.97 L190.49,417.36 L191.35,417.75 L192.22,418.14 L193.09,418.53 L193.95,418.92 L194.81,419.31 L195.68,419.71 L196.54,420.10 L197.39,420.50 L198.25,420.90 L199.10,421.31 L199.95,421.71 L200.80,422.12 L201.64,422.54 L202.48,422.96 L203.32,423.38 L204.15,423.81 L204.98,424.24 L205.81,424.67 L206.64,425.11 L207.46,425.55 L208.28,426.00 L209.09,426.45 L209.90,426.90 L210.71,427.36 L211.52,427.82 L212.32,428.29 L213.12,428.76 L213.91,429.23 L214.71,429.71 L215.50,430.19 L216.28,430.67 L217.07,431.16 L217.85,431.66 L218.63,432.15 L219.40,432.65 L220.17,433.16 L220.94,433.67 L221.71,434.18 L222.47,434.70 L223.23,435.22 L223.99,435.74 L224.75,436.27 L225.50,436.80 L226.25,437.34 L226.99,437.88 L227.74,438.42 L228.48,438.97 L229.22,439.52 L229.95,440.08 L230.68,440.64 L231.41,441.20 L232.14,441.77 L232.87,442.34 L233.59,442.92 L234.31,443.50 L235.02,444.08 L235.74,444.67 L236.45,445.26 L237.16,445.86 L237.86,446.46 L238.57,447.06 L239.27,447.67 L239.96,448.28 L240.66,448.90 L241.35,449.52 L242.04,450.14 L242.73,450.77 L243.42,451.40 L244.11,452.04 L244.79,452.67 L245.47,453.31 L246.15,453.95 L246.83,454.60 L247.51,455.24 L248.19,455.89 L248.86,456.54 L249.54,457.19 L250.21,457.84 L250.89,458.49 L251.56,459.14 L252.24,459.80 L252.91,460.45 L253.59,461.10 L254.26,461.75 L254.94,462.41 L255.62,463.06 L256.30,463.71 L256.97,464.36 L257.65,465.00 L258.34,465.65 L259.02,466.29 L259.70,466.93 L260.39,467.57 L261.08,468.21 L261.77,468.84 L262.46,469.48 L263.16,470.10 L263.85,470.73 L264.55,471.35 L265.26,471.97 L265.96,472.58 L266.67,473.19 L267.38,473.79 L268.10,474.39 L268.82,474.99 L269.54,475.57 L270.27,476.16 L271.00,476.74 L271.74,477.31 L272.47,477.87 L273.22,478.43 L273.97,478.99 L274.72,479.53 L275.48,480.07 L276.24,480.60 L277.01,481.13 L277.79,481.65 L278.57,482.15 L279.35,482.66 L280.14,483.15 L280.94,483.63 L281.74,484.11 L282.55,484.58 L283.36,485.04 L284.18,485.50 L285.00,485.94 L285.82,486.39 L286.65,486.82 L287.49,487.25 L288.33,487.67 L289.17,488.09 L290.02,488.50 L290.87,488.90 L291.72,489.30 L292.57,489.70 L293.43,490.08 L294.30,490.47 L295.16,490.85 L296.03,491.23 L296.90,491.60 L297.77,491.96 L298.64,492.33 L299.51,492.69 L300.39,493.05 L301.27,493.40 L302.15,493.75 L303.03,494.10 L303.91,494.44 L304.79,494.79 L305.67,495.13 L306.56,495.47 L307.44,495.81 L308.32,496.14 L309.20,496.48 L310.09,496.81 L310.97,497.14 L311.85,497.47 L312.73,497.81 L313.61,498.14 L314.49,498.47 L315.36,498.80 L316.24,499.13 L317.11,499.46 L317.98,499.80 L318.85,500.13 L319.72,500.46 L320.58,500.80 L321.45,501.14 L322.31,501.48 L323.16,501.82 L324.02,502.16 L324.87,502.50" fill="none" stroke="#e8141e" stroke-width="2.3" stroke-linejoin="round" stroke-linecap="round"/>
<path d="M35.46,286.61 L36.35,286.65 L37.23,286.68 L38.12,286.72 L39.01,286.76 L39.90,286.80 L40.79,286.85 L41.68,286.89 L42.57,286.94 L43.47,287.00 L44.36,287.05 L45.25,287.11 L46.14,287.18 L47.04,287.24 L47.93,287.32 L48.83,287.39 L49.72,287.48 L50.61,287.56 L51.50,287.65 L52.39,287.75 L53.28,287.86 L54.17,287.97 L55.06,288.08 L55.95,288.20 L56.84,288.33 L57.72,288.47 L58.60,288.61 L59.49,288.76 L60.37,288.92 L61.24,289.09 L62.12,289.26 L62.99,289.44 L63.86,289.64 L64.73,289.84 L65.60,290.04 L66.46,290.26 L67.32,290.49 L68.18,290.73 L69.03,290.98 L69.88,291.23 L70.73,291.50 L71.58,291.78 L72.42,292.07 L73.25,292.37 L74.09,292.68 L74.92,293.00 L75.74,293.33 L76.57,293.67 L77.39,294.01 L78.20,294.37 L79.01,294.74 L79.82,295.11 L80.62,295.50 L81.42,295.89 L82.22,296.29 L83.01,296.70 L83.79,297.12 L84.57,297.55 L85.35,297.99 L86.12,298.43 L86.89,298.88 L87.65,299.34 L88.41,299.81 L89.17,300.29 L89.92,300.77 L90.66,301.26 L91.40,301.76 L92.13,302.26 L92.86,302.77 L93.59,303.29 L94.31,303.82 L95.02,304.35 L95.73,304.89 L96.43,305.43 L97.13,305.98 L97.82,306.54 L98.51,307.10 L99.19,307.67 L99.86,308.24 L100.53,308.82 L101.20,309.41 L101.86,310.00 L102.51,310.59 L103.15,311.20 L103.80,311.80 L104.43,312.41 L105.06,313.03 L105.69,313.65 L106.30,314.28 L106.92,314.91 L107.53,315.54 L108.13,316.18 L108.73,316.83 L109.32,317.48 L109.91,318.13 L110.50,318.79 L111.07,319.45 L111.65,320.12 L112.22,320.79 L112.78,321.46 L113.35,322.14 L113.90,322.82 L114.45,323.51 L115.00,324.20 L115.55,324.89 L116.09,325.59 L116.62,326.29 L117.15,327.00 L117.68,327.71 L118.21,328.42 L118.73,329.13 L119.24,329.85 L119.76,330.57 L120.27,331.30 L120.77,332.03 L121.28,332.76 L121.78,333.49 L122.27,334.23 L122.77,334.97 L123.26,335.71 L123.75,336.45 L124.23,337.20 L124.71,337.95 L125.19,338.70 L125.67,339.46 L126.14,340.21 L126.61,340.97 L127.08,341.74 L127.55,342.50 L128.01,343.26 L128.47,344.03 L128.93,344.80 L129.39,345.57 L129.85,346.35 L130.30,347.12 L130.75,347.90 L131.20,348.67 L131.65,349.45 L132.10,350.23 L132.54,351.02 L132.99,351.80 L133.43,352.58 L133.87,353.37 L134.31,354.16 L134.75,354.94 L135.18,355.73 L135.62,356.52 L136.06,357.31 L136.49,358.10 L136.92,358.90 L137.36,359.69 L137.79,360.48 L138.22,361.27 L138.65,362.07 L139.08,362.86 L139.51,363.66 L139.94,364.45 L140.37,365.24 L140.80,366.04 L141.23,366.83 L141.66,367.63 L142.08,368.42 L142.51,369.22 L142.94,370.01 L143.37,370.80 L143.80,371.60 L144.23,372.39 L144.66,373.18 L145.10,373.97 L145.53,374.76 L145.97,375.55 L146.40,376.33 L146.84,377.12 L147.28,377.90 L147.72,378.68 L148.17,379.46 L148.62,380.23 L149.07,381.01 L149.52,381.78 L149.98,382.54 L150.44,383.31 L150.90,384.07 L151.37,384.82 L151.84,385.58 L152.31,386.33 L152.79,387.07 L153.27,387.81 L153.76,388.55 L154.26,389.28 L154.75,390.01 L155.26,390.73 L155.77,391.45 L156.28,392.16 L156.80,392.87 L157.33,393.57 L157.86,394.26 L158.40,394.95 L158.94,395.64 L159.50,396.31 L160.05,396.98 L160.62,397.65 L161.19,398.31 L161.78,398.95 L162.37,399.60 L162.96,400.23 L163.57,400.86 L164.18,401.48 L164.80,402.09 L165.43,402.70 L166.06,403.30 L166.70,403.89 L167.35,404.48 L168.01,405.06 L168.67,405.63 L169.34,406.19 L170.02,406.75 L170.70,407.31 L171.39,407.85 L172.08,408.39 L172.78,408.93 L173.49,409.45 L174.20,409.98 L174.92,410.49 L175.64,411.00 L176.37,411.51 L177.10,412.00 L177.84,412.50 L178.58,412.99 L179.33,413.47 L180.08,413.95 L180.84,414.42 L181.60,414.88 L182.36,415.35 L183.13,415.80 L183.90,416.25 L184.68,416.70 L185.46,417.14 L186.24,417.58 L187.02,418.01 L187.81,418.44 L188.60,418.87 L189.40,419.29 L190.20,419.70 L191.00,420.12 L191.80,420.52 L192.60,420.93 L193.41,421.33 L194.22,421.72 L195.03,422.12 L195.84,422.51 L196.65,422.89 L197.47,423.27 L198.28,423.65 L199.10,424.03 L199.92,424.40 L200.73,424.77 L201.55,425.14 L202.37,425.50 L203.20,425.86 L204.02,426.22 L204.84,426.57 L205.66,426.93 L206.49,427.27 L207.32,427.62 L208.14,427.96 L208.97,428.30 L209.80,428.64 L210.63,428.97 L211.46,429.30 L212.29,429.63 L213.12,429.96 L213.95,430.28 L214.78,430.60 L215.62,430.92 L216.45,431.23 L217.29,431.54 L218.12,431.85 L218.96,432.16 L219.80,432.46 L220.63,432.76 L221.47,433.06 L222.31,433.36 L223.15,433.65 L223.99,433.94 L224.84,434.23 L225.68,434.52 L226.52,434.80 L227.36,435.08 L228.21,435.36 L229.05,435.63 L229.90,435.91 L230.75,436.18 L231.59,436.45 L232.44,436.71 L233.29,436.98 L234.14,437.24 L234.99,437.50 L235.84,437.75 L236.69,438.01 L237.54,438.26 L238.40,438.51 L239.25,438.76 L240.10,439.00 L240.96,439.25 L241.81,439.49 L242.67,439.73 L243.52,439.97 L244.38,440.20 L245.24,440.43 L246.09,440.67 L246.95,440.89 L247.81,441.12 L248.67,441.35 L249.53,441.57 L250.39,441.79 L251.25,442.01 L252.11,442.23 L252.97,442.44 L253.84,442.65 L254.70,442.87 L255.56,443.07 L256.43,443.28 L257.29,443.49 L258.16,443.69 L259.02,443.89 L259.89,444.10 L260.75,444.29 L261.62,444.49 L262.49,444.69 L263.36,444.88 L264.22,445.07 L265.09,445.26 L265.96,445.45 L266.83,445.64 L267.70,445.82 L268.57,446.01 L269.44,446.19 L270.31,446.37 L271.18,446.55 L272.06,446.73 L272.93,446.91 L273.80,447.08 L274.67,447.26 L275.55,447.43 L276.42,447.60 L277.29,447.77 L278.17,447.94 L279.04,448.10 L279.92,448.27 L280.79,448.43 L281.67,448.60 L282.54,448.76 L283.42,448.92 L284.30,449.08 L285.17,449.24 L286.05,449.39 L286.93,449.55 L287.81,449.70 L288.68,449.86 L289.56,450.01 L290.44,450.16 L291.32,450.31 L292.20,450.46 L293.08,450.61 L293.96,450.75 L294.84,450.90 L295.72,451.04 L296.60,451.19 L297.48,451.33 L298.36,451.47 L299.24,451.62 L300.12,451.76 L301.00,451.90 L301.88,452.04 L302.76,452.17 L303.65,452.31 L304.53,452.45 L305.41,452.58 L306.29,452.72 L307.17,452.85 L308.06,452.99 L308.94,453.12 L309.82,453.25 L310.70,453.38 L311.59,453.51 L312.47,453.64 L313.35,453.77 L314.24,453.90 L315.12,454.03 L316.00,454.16 L316.89,454.29 L317.77,454.41 L318.65,454.54 L319.54,454.67 L320.42,454.79 L321.30,454.92 L322.19,455.04 L323.07,455.17 L323.96,455.29 L324.84,455.42" fill="none" stroke="#0a46c8" stroke-width="2.3" stroke-linejoin="round" stroke-linecap="round"/>
<path d="M35.41,286.83 L36.29,286.79 L37.18,286.75 L38.07,286.73 L38.96,286.71 L39.85,286.71 L40.74,286.71 L41.63,286.72 L42.52,286.73 L43.41,286.76 L44.31,286.79 L45.20,286.83 L46.09,286.88 L46.98,286.94 L47.88,287.01 L48.77,287.08 L49.66,287.17 L50.55,287.26 L51.44,287.36 L52.33,287.46 L53.22,287.58 L54.11,287.70 L55.00,287.83 L55.89,287.97 L56.77,288.12 L57.66,288.27 L58.54,288.43 L59.42,288.60 L60.30,288.78 L61.18,288.97 L62.06,289.16 L62.93,289.37 L63.81,289.58 L64.68,289.79 L65.55,290.02 L66.42,290.25 L67.28,290.49 L68.14,290.74 L69.00,291.00 L69.86,291.26 L70.71,291.53 L71.57,291.81 L72.42,292.10 L73.26,292.39 L74.11,292.69 L74.95,293.00 L75.78,293.32 L76.62,293.65 L77.45,293.98 L78.27,294.32 L79.10,294.67 L79.91,295.02 L80.73,295.38 L81.54,295.75 L82.35,296.13 L83.15,296.51 L83.95,296.90 L84.75,297.30 L85.54,297.71 L86.32,298.12 L87.10,298.54 L87.88,298.97 L88.65,299.41 L89.42,299.85 L90.18,300.30 L90.94,300.76 L91.69,301.22 L92.44,301.69 L93.18,302.17 L93.91,302.66 L94.64,303.15 L95.37,303.65 L96.08,304.16 L96.80,304.67 L97.50,305.19 L98.20,305.72 L98.90,306.26 L99.59,306.80 L100.27,307.35 L100.94,307.90 L101.61,308.47 L102.27,309.04 L102.93,309.61 L103.58,310.20 L104.22,310.79 L104.86,311.38 L105.49,311.99 L106.11,312.60 L106.73,313.21 L107.34,313.84 L107.94,314.46 L108.54,315.10 L109.13,315.74 L109.72,316.38 L110.30,317.04 L110.88,317.69 L111.45,318.35 L112.01,319.02 L112.57,319.69 L113.13,320.37 L113.68,321.05 L114.23,321.74 L114.77,322.43 L115.31,323.13 L115.84,323.83 L116.37,324.54 L116.89,325.25 L117.41,325.96 L117.93,326.68 L118.44,327.40 L118.95,328.12 L119.45,328.85 L119.95,329.58 L120.45,330.32 L120.95,331.06 L121.44,331.80 L121.93,332.55 L122.41,333.30 L122.89,334.05 L123.37,334.80 L123.85,335.56 L124.32,336.32 L124.80,337.08 L125.27,337.84 L125.73,338.61 L126.20,339.38 L126.66,340.15 L127.12,340.92 L127.58,341.70 L128.04,342.47 L128.50,343.25 L128.95,344.03 L129.41,344.81 L129.86,345.59 L130.31,346.37 L130.76,347.15 L131.21,347.94 L131.66,348.72 L132.11,349.51 L132.56,350.29 L133.01,351.08 L133.45,351.86 L133.90,352.65 L134.35,353.44 L134.79,354.22 L135.24,355.01 L135.69,355.79 L136.14,356.58 L136.58,357.36 L137.03,358.15 L137.48,358.93 L137.93,359.72 L138.38,360.50 L138.84,361.28 L139.29,362.06 L139.74,362.83 L140.20,363.61 L140.66,364.39 L141.12,365.16 L141.58,365.93 L142.04,366.70 L142.50,367.47 L142.97,368.23 L143.44,369.00 L143.91,369.76 L144.38,370.52 L144.86,371.27 L145.34,372.03 L145.82,372.78 L146.30,373.53 L146.79,374.27 L147.28,375.01 L147.77,375.75 L148.26,376.49 L148.76,377.22 L149.26,377.95 L149.77,378.68 L150.28,379.40 L150.79,380.12 L151.30,380.83 L151.82,381.55 L152.34,382.25 L152.87,382.96 L153.40,383.66 L153.93,384.36 L154.47,385.05 L155.01,385.74 L155.55,386.42 L156.10,387.10 L156.66,387.78 L157.22,388.45 L157.78,389.11 L158.35,389.78 L158.92,390.43 L159.49,391.09 L160.07,391.73 L160.66,392.38 L161.25,393.01 L161.85,393.65 L162.45,394.28 L163.05,394.90 L163.66,395.51 L164.28,396.13 L164.90,396.73 L165.53,397.33 L166.16,397.93 L166.80,398.52 L167.44,399.10 L168.09,399.68 L168.75,400.25 L169.41,400.82 L170.08,401.38 L170.75,401.93 L171.42,402.48 L172.11,403.02 L172.80,403.56 L173.49,404.09 L174.19,404.62 L174.89,405.14 L175.60,405.66 L176.31,406.17 L177.03,406.68 L177.75,407.18 L178.47,407.67 L179.21,408.16 L179.94,408.65 L180.68,409.13 L181.42,409.60 L182.17,410.07 L182.92,410.54 L183.68,411.00 L184.44,411.46 L185.20,411.91 L185.97,412.36 L186.74,412.80 L187.52,413.24 L188.29,413.67 L189.08,414.10 L189.86,414.53 L190.65,414.95 L191.44,415.36 L192.23,415.78 L193.03,416.18 L193.83,416.59 L194.63,416.99 L195.44,417.39 L196.25,417.78 L197.06,418.17 L197.87,418.55 L198.68,418.93 L199.50,419.31 L200.32,419.68 L201.14,420.06 L201.97,420.42 L202.79,420.79 L203.62,421.15 L204.45,421.50 L205.28,421.85 L206.12,422.20 L206.95,422.55 L207.79,422.90 L208.62,423.24 L209.46,423.57 L210.30,423.91 L211.14,424.24 L211.98,424.57 L212.83,424.89 L213.67,425.22 L214.52,425.54 L215.36,425.86 L216.21,426.17 L217.05,426.48 L217.90,426.79 L218.75,427.10 L219.59,427.41 L220.44,427.71 L221.29,428.01 L222.14,428.31 L222.99,428.60 L223.83,428.90 L224.68,429.19 L225.53,429.48 L226.38,429.77 L227.23,430.05 L228.08,430.34 L228.93,430.62 L229.78,430.90 L230.63,431.18 L231.47,431.45 L232.32,431.73 L233.17,432.00 L234.02,432.27 L234.87,432.54 L235.72,432.81 L236.57,433.08 L237.42,433.34 L238.27,433.61 L239.12,433.87 L239.97,434.13 L240.82,434.39 L241.67,434.65 L242.52,434.91 L243.37,435.17 L244.22,435.43 L245.07,435.68 L245.92,435.94 L246.77,436.19 L247.62,436.44 L248.46,436.70 L249.31,436.95 L250.16,437.20 L251.01,437.45 L251.86,437.70 L252.71,437.95 L253.56,438.20 L254.41,438.45 L255.26,438.69 L256.11,438.94 L256.96,439.19 L257.80,439.44 L258.65,439.68 L259.50,439.93 L260.35,440.18 L261.20,440.42 L262.05,440.67 L262.89,440.92 L263.74,441.16 L264.59,441.41 L265.44,441.66 L266.28,441.91 L267.13,442.15 L267.98,442.40 L268.82,442.65 L269.67,442.90 L270.52,443.15 L271.36,443.40 L272.21,443.65 L273.05,443.90 L273.90,444.16 L274.75,444.41 L275.59,444.66 L276.44,444.92 L277.28,445.17 L278.12,445.43 L278.97,445.69 L279.81,445.94 L280.66,446.20 L281.50,446.46 L282.34,446.73 L283.19,446.99 L284.03,447.25 L284.87,447.52 L285.71,447.79 L286.55,448.05 L287.40,448.32 L288.24,448.60 L289.08,448.87 L289.92,449.14 L290.76,449.42 L291.60,449.70 L292.44,449.98 L293.28,450.26 L294.11,450.54 L294.95,450.83 L295.79,451.11 L296.63,451.40 L297.46,451.69 L298.30,451.99 L299.14,452.28 L299.97,452.58 L300.81,452.88 L301.64,453.18 L302.48,453.49 L303.31,453.79 L304.15,454.10 L304.98,454.42 L305.81,454.73 L306.65,455.05 L307.48,455.37 L308.31,455.69 L309.14,456.01 L309.97,456.34 L310.80,456.67 L311.63,457.01 L312.46,457.34 L313.29,457.68 L314.12,458.02 L314.95,458.37 L315.78,458.72 L316.60,459.07 L317.43,459.42 L318.25,459.78 L319.08,460.14 L319.90,460.51 L320.73,460.88 L321.55,461.25 L322.38,461.62 L323.20,462.00 L324.02,462.38 L324.84,462.77" fill="none" stroke="#139650" stroke-width="2.3" stroke-linejoin="round" stroke-linecap="round"/>
<path d="M35.56,286.26 L36.45,286.32 L37.34,286.39 L38.24,286.47 L39.13,286.56 L40.01,286.66 L40.90,286.77 L41.78,286.88 L42.67,287.01 L43.55,287.15 L44.43,287.30 L45.30,287.45 L46.18,287.62 L47.05,287.80 L47.92,287.98 L48.79,288.18 L49.66,288.38 L50.52,288.59 L51.39,288.81 L52.25,289.04 L53.10,289.28 L53.96,289.53 L54.81,289.79 L55.66,290.05 L56.51,290.33 L57.36,290.61 L58.20,290.90 L59.04,291.20 L59.88,291.51 L60.71,291.82 L61.54,292.15 L62.37,292.48 L63.20,292.82 L64.02,293.16 L64.84,293.52 L65.66,293.88 L66.48,294.25 L67.29,294.63 L68.10,295.02 L68.90,295.41 L69.70,295.81 L70.50,296.22 L71.30,296.63 L72.09,297.05 L72.88,297.48 L73.66,297.92 L74.44,298.36 L75.22,298.81 L76.00,299.27 L76.77,299.73 L77.53,300.20 L78.30,300.68 L79.06,301.16 L79.81,301.65 L80.57,302.14 L81.31,302.64 L82.06,303.15 L82.80,303.67 L83.54,304.19 L84.27,304.71 L85.00,305.24 L85.72,305.78 L86.44,306.32 L87.16,306.87 L87.87,307.43 L88.58,307.98 L89.28,308.55 L89.98,309.12 L90.67,309.70 L91.36,310.28 L92.05,310.86 L92.73,311.45 L93.40,312.05 L94.07,312.65 L94.74,313.26 L95.40,313.87 L96.06,314.48 L96.71,315.10 L97.36,315.73 L98.00,316.35 L98.64,316.99 L99.27,317.62 L99.90,318.27 L100.52,318.91 L101.14,319.56 L101.75,320.21 L102.35,320.87 L102.96,321.53 L103.55,322.20 L104.14,322.87 L104.73,323.54 L105.31,324.22 L105.89,324.90 L106.46,325.58 L107.03,326.27 L107.59,326.96 L108.15,327.65 L108.71,328.35 L109.26,329.04 L109.81,329.75 L110.35,330.45 L110.89,331.16 L111.43,331.87 L111.96,332.59 L112.49,333.30 L113.01,334.02 L113.53,334.75 L114.05,335.47 L114.57,336.20 L115.08,336.93 L115.59,337.66 L116.09,338.40 L116.60,339.13 L117.10,339.87 L117.59,340.61 L118.09,341.36 L118.58,342.10 L119.07,342.85 L119.56,343.60 L120.04,344.35 L120.52,345.10 L121.00,345.86 L121.48,346.61 L121.96,347.37 L122.43,348.13 L122.91,348.89 L123.38,349.65 L123.85,350.41 L124.32,351.18 L124.78,351.94 L125.25,352.71 L125.71,353.48 L126.17,354.25 L126.64,355.02 L127.10,355.79 L127.56,356.56 L128.02,357.33 L128.48,358.10 L128.93,358.87 L129.39,359.65 L129.85,360.42 L130.30,361.20 L130.76,361.97 L131.22,362.75 L131.67,363.52 L132.13,364.30 L132.58,365.07 L133.04,365.85 L133.50,366.62 L133.95,367.40 L134.41,368.17 L134.87,368.95 L135.32,369.72 L135.78,370.49 L136.24,371.27 L136.70,372.04 L137.16,372.81 L137.63,373.58 L138.09,374.36 L138.55,375.13 L139.02,375.90 L139.49,376.66 L139.96,377.43 L140.43,378.20 L140.90,378.96 L141.37,379.73 L141.85,380.49 L142.32,381.25 L142.80,382.01 L143.28,382.77 L143.77,383.53 L144.25,384.28 L144.74,385.04 L145.23,385.79 L145.73,386.53 L146.23,387.28 L146.73,388.02 L147.23,388.76 L147.74,389.50 L148.25,390.23 L148.76,390.96 L149.28,391.69 L149.80,392.41 L150.32,393.13 L150.85,393.85 L151.39,394.56 L151.92,395.26 L152.47,395.97 L153.01,396.66 L153.56,397.36 L154.12,398.04 L154.68,398.73 L155.25,399.40 L155.82,400.08 L156.40,400.74 L156.98,401.40 L157.57,402.06 L158.16,402.71 L158.76,403.35 L159.37,403.99 L159.98,404.62 L160.60,405.24 L161.23,405.86 L161.86,406.46 L162.50,407.07 L163.14,407.66 L163.79,408.25 L164.45,408.83 L165.12,409.40 L165.79,409.97 L166.47,410.52 L167.16,411.07 L167.85,411.62 L168.54,412.16 L169.25,412.69 L169.96,413.21 L170.67,413.73 L171.39,414.24 L172.12,414.74 L172.85,415.24 L173.59,415.73 L174.33,416.22 L175.08,416.69 L175.83,417.17 L176.59,417.64 L177.35,418.10 L178.11,418.56 L178.88,419.01 L179.66,419.45 L180.43,419.89 L181.21,420.33 L182.00,420.76 L182.79,421.18 L183.58,421.60 L184.38,422.02 L185.18,422.43 L185.98,422.84 L186.78,423.24 L187.59,423.64 L188.40,424.03 L189.21,424.42 L190.03,424.80 L190.85,425.19 L191.67,425.56 L192.49,425.94 L193.31,426.31 L194.14,426.67 L194.97,427.03 L195.80,427.39 L196.63,427.75 L197.46,428.10 L198.29,428.45 L199.12,428.80 L199.96,429.14 L200.79,429.49 L201.63,429.82 L202.46,430.16 L203.30,430.49 L204.14,430.82 L204.98,431.15 L205.82,431.48 L206.66,431.80 L207.50,432.12 L208.34,432.44 L209.18,432.75 L210.03,433.06 L210.87,433.37 L211.71,433.68 L212.56,433.99 L213.41,434.29 L214.25,434.59 L215.10,434.89 L215.95,435.19 L216.79,435.48 L217.64,435.77 L218.49,436.06 L219.34,436.35 L220.19,436.64 L221.04,436.92 L221.90,437.20 L222.75,437.48 L223.60,437.76 L224.45,438.04 L225.31,438.31 L226.16,438.59 L227.02,438.86 L227.87,439.13 L228.73,439.39 L229.58,439.66 L230.44,439.93 L231.30,440.19 L232.15,440.45 L233.01,440.71 L233.87,440.97 L234.73,441.23 L235.59,441.48 L236.44,441.74 L237.30,441.99 L238.16,442.24 L239.02,442.49 L239.88,442.74 L240.75,442.99 L241.61,443.24 L242.47,443.48 L243.33,443.73 L244.19,443.97 L245.05,444.21 L245.92,444.46 L246.78,444.70 L247.64,444.94 L248.50,445.18 L249.37,445.41 L250.23,445.65 L251.09,445.89 L251.96,446.13 L252.82,446.36 L253.69,446.60 L254.55,446.83 L255.41,447.06 L256.28,447.30 L257.14,447.53 L258.01,447.76 L258.87,447.99 L259.74,448.22 L260.60,448.45 L261.47,448.68 L262.33,448.91 L263.20,449.14 L264.06,449.37 L264.93,449.60 L265.79,449.83 L266.66,450.06 L267.52,450.29 L268.39,450.52 L269.25,450.75 L270.12,450.98 L270.98,451.21 L271.85,451.44 L272.71,451.67 L273.57,451.90 L274.44,452.12 L275.30,452.35 L276.17,452.58 L277.03,452.82 L277.90,453.05 L278.76,453.28 L279.62,453.51 L280.49,453.74 L281.35,453.97 L282.21,454.21 L283.07,454.44 L283.94,454.67 L284.80,454.91 L285.66,455.14 L286.52,455.38 L287.38,455.61 L288.25,455.85 L289.11,456.09 L289.97,456.33 L290.83,456.57 L291.69,456.81 L292.55,457.05 L293.41,457.29 L294.27,457.54 L295.12,457.78 L295.98,458.03 L296.84,458.27 L297.70,458.52 L298.55,458.77 L299.41,459.02 L300.27,459.27 L301.12,459.53 L301.98,459.78 L302.83,460.03 L303.69,460.29 L304.54,460.55 L305.39,460.81 L306.25,461.07 L307.10,461.33 L307.95,461.60 L308.80,461.86 L309.65,462.13 L310.50,462.40 L311.35,462.67 L312.20,462.94 L313.05,463.22 L313.90,463.49 L314.75,463.77 L315.59,464.05 L316.44,464.33 L317.28,464.61 L318.13,464.90 L318.97,465.19 L319.82,465.48 L320.66,465.77 L321.50,466.06 L322.34,466.36 L323.18,466.66 L324.02,466.96 L324.86,467.26" fill="none" stroke="#a055dc" stroke-width="2.3" stroke-linejoin="round" stroke-linecap="round"/>
<path d="M35.46,286.65 L36.35,286.67 L37.24,286.69 L38.13,286.71 L39.02,286.74 L39.92,286.77 L40.81,286.80 L41.71,286.84 L42.60,286.89 L43.50,286.93 L44.40,286.99 L45.29,287.04 L46.19,287.11 L47.09,287.17 L47.98,287.25 L48.88,287.32 L49.77,287.41 L50.67,287.50 L51.56,287.59 L52.46,287.69 L53.35,287.80 L54.24,287.92 L55.13,288.04 L56.02,288.17 L56.91,288.30 L57.80,288.44 L58.68,288.59 L59.56,288.75 L60.45,288.92 L61.33,289.09 L62.20,289.27 L63.08,289.46 L63.95,289.66 L64.82,289.87 L65.69,290.09 L66.55,290.31 L67.42,290.55 L68.28,290.79 L69.13,291.05 L69.98,291.31 L70.83,291.59 L71.68,291.87 L72.52,292.16 L73.36,292.47 L74.20,292.78 L75.03,293.10 L75.86,293.43 L76.69,293.77 L77.51,294.12 L78.33,294.48 L79.14,294.85 L79.95,295.23 L80.76,295.62 L81.56,296.01 L82.36,296.41 L83.15,296.82 L83.94,297.24 L84.72,297.67 L85.50,298.11 L86.28,298.55 L87.05,299.00 L87.82,299.46 L88.58,299.93 L89.34,300.40 L90.09,300.88 L90.84,301.37 L91.58,301.87 L92.32,302.37 L93.05,302.88 L93.78,303.39 L94.50,303.92 L95.21,304.45 L95.93,304.98 L96.63,305.53 L97.33,306.07 L98.03,306.63 L98.72,307.19 L99.40,307.76 L100.08,308.33 L100.75,308.91 L101.42,309.49 L102.08,310.08 L102.74,310.68 L103.39,311.28 L104.03,311.88 L104.67,312.49 L105.30,313.11 L105.93,313.73 L106.55,314.35 L107.17,314.98 L107.78,315.62 L108.39,316.26 L108.99,316.90 L109.59,317.55 L110.18,318.21 L110.77,318.87 L111.35,319.53 L111.93,320.20 L112.50,320.87 L113.07,321.54 L113.63,322.22 L114.19,322.91 L114.75,323.59 L115.30,324.29 L115.85,324.98 L116.39,325.68 L116.93,326.38 L117.46,327.09 L117.99,327.80 L118.52,328.51 L119.04,329.23 L119.56,329.95 L120.08,330.67 L120.59,331.40 L121.10,332.13 L121.61,332.86 L122.11,333.60 L122.61,334.34 L123.11,335.08 L123.60,335.82 L124.09,336.57 L124.58,337.32 L125.06,338.07 L125.55,338.83 L126.02,339.59 L126.50,340.35 L126.98,341.11 L127.45,341.87 L127.92,342.64 L128.38,343.41 L128.85,344.18 L129.31,344.95 L129.77,345.72 L130.23,346.50 L130.68,347.28 L131.14,348.05 L131.59,348.83 L132.04,349.62 L132.49,350.40 L132.94,351.19 L133.38,351.97 L133.83,352.76 L134.27,353.55 L134.71,354.34 L135.15,355.13 L135.59,355.92 L136.03,356.71 L136.46,357.50 L136.90,358.30 L137.34,359.09 L137.77,359.89 L138.20,360.68 L138.64,361.48 L139.07,362.27 L139.50,363.07 L139.93,363.87 L140.36,364.66 L140.79,365.46 L141.22,366.26 L141.65,367.06 L142.08,367.85 L142.52,368.65 L142.95,369.45 L143.38,370.24 L143.81,371.04 L144.24,371.83 L144.67,372.63 L145.10,373.42 L145.53,374.21 L145.97,375.00 L146.41,375.79 L146.84,376.58 L147.28,377.36 L147.72,378.15 L148.17,378.93 L148.61,379.71 L149.06,380.49 L149.51,381.26 L149.97,382.03 L150.42,382.80 L150.88,383.57 L151.35,384.33 L151.81,385.09 L152.28,385.85 L152.76,386.60 L153.24,387.35 L153.72,388.09 L154.21,388.83 L154.70,389.57 L155.20,390.30 L155.71,391.02 L156.21,391.74 L156.73,392.46 L157.25,393.17 L157.77,393.88 L158.31,394.58 L158.85,395.27 L159.39,395.96 L159.94,396.64 L160.50,397.32 L161.07,397.99 L161.64,398.65 L162.22,399.31 L162.81,399.96 L163.40,400.60 L164.01,401.23 L164.62,401.86 L165.24,402.49 L165.86,403.10 L166.50,403.71 L167.14,404.31 L167.78,404.91 L168.44,405.50 L169.10,406.08 L169.76,406.66 L170.44,407.23 L171.12,407.79 L171.80,408.35 L172.49,408.90 L173.19,409.44 L173.89,409.98 L174.60,410.52 L175.32,411.04 L176.04,411.57 L176.76,412.08 L177.49,412.59 L178.22,413.10 L178.96,413.60 L179.71,414.09 L180.45,414.58 L181.21,415.06 L181.96,415.54 L182.73,416.01 L183.49,416.48 L184.26,416.94 L185.03,417.40 L185.81,417.85 L186.59,418.30 L187.37,418.74 L188.16,419.18 L188.95,419.61 L189.74,420.04 L190.53,420.46 L191.33,420.88 L192.13,421.29 L192.93,421.70 L193.74,422.11 L194.55,422.51 L195.36,422.90 L196.17,423.30 L196.98,423.68 L197.79,424.07 L198.61,424.45 L199.43,424.82 L200.25,425.20 L201.07,425.57 L201.89,425.93 L202.71,426.29 L203.53,426.65 L204.36,427.00 L205.18,427.35 L206.01,427.70 L206.84,428.04 L207.67,428.38 L208.50,428.72 L209.33,429.05 L210.16,429.38 L210.99,429.70 L211.83,430.03 L212.66,430.34 L213.50,430.66 L214.34,430.97 L215.18,431.28 L216.02,431.59 L216.86,431.89 L217.70,432.19 L218.54,432.49 L219.38,432.79 L220.23,433.08 L221.07,433.37 L221.92,433.65 L222.76,433.94 L223.61,434.22 L224.46,434.49 L225.31,434.77 L226.16,435.04 L227.01,435.31 L227.86,435.58 L228.71,435.85 L229.57,436.11 L230.42,436.37 L231.28,436.63 L232.13,436.89 L232.99,437.14 L233.84,437.39 L234.70,437.64 L235.56,437.89 L236.42,438.13 L237.28,438.38 L238.14,438.62 L239.00,438.86 L239.86,439.10 L240.72,439.33 L241.58,439.57 L242.44,439.80 L243.31,440.03 L244.17,440.26 L245.04,440.49 L245.90,440.71 L246.77,440.94 L247.63,441.16 L248.50,441.38 L249.36,441.60 L250.23,441.82 L251.10,442.04 L251.97,442.25 L252.83,442.47 L253.70,442.68 L254.57,442.89 L255.44,443.11 L256.31,443.32 L257.18,443.53 L258.05,443.73 L258.92,443.94 L259.79,444.15 L260.66,444.35 L261.53,444.56 L262.40,444.76 L263.27,444.97 L264.15,445.17 L265.02,445.37 L265.89,445.57 L266.76,445.77 L267.63,445.97 L268.51,446.17 L269.38,446.37 L270.25,446.57 L271.12,446.77 L272.00,446.97 L272.87,447.17 L273.74,447.37 L274.62,447.57 L275.49,447.76 L276.36,447.96 L277.23,448.16 L278.11,448.36 L278.98,448.56 L279.85,448.75 L280.73,448.95 L281.60,449.15 L282.47,449.35 L283.34,449.55 L284.21,449.75 L285.09,449.95 L285.96,450.15 L286.83,450.35 L287.70,450.55 L288.57,450.75 L289.44,450.95 L290.32,451.15 L291.19,451.36 L292.06,451.56 L292.93,451.77 L293.80,451.97 L294.67,452.18 L295.54,452.38 L296.41,452.59 L297.27,452.80 L298.14,453.01 L299.01,453.22 L299.88,453.44 L300.75,453.65 L301.61,453.86 L302.48,454.08 L303.34,454.30 L304.21,454.51 L305.07,454.73 L305.94,454.96 L306.80,455.18 L307.67,455.40 L308.53,455.63 L309.39,455.85 L310.25,456.08 L311.12,456.31 L311.98,456.55 L312.84,456.78 L313.70,457.02 L314.56,457.25 L315.41,457.49 L316.27,457.73 L317.13,457.98 L317.99,458.22 L318.84,458.47 L319.70,458.72 L320.55,458.97 L321.41,459.22 L322.26,459.48 L323.11,459.74 L323.96,460.00 L324.81,460.26" fill="none" stroke="#c88c0a" stroke-width="2.3" stroke-linejoin="round" stroke-linecap="round"/>
<path d="M35.46,286.60 L36.36,286.63 L37.26,286.65 L38.17,286.68 L39.07,286.72 L39.97,286.75 L40.87,286.80 L41.78,286.84 L42.68,286.90 L43.58,286.95 L44.48,287.01 L45.38,287.08 L46.28,287.15 L47.18,287.23 L48.08,287.32 L48.98,287.41 L49.88,287.50 L50.77,287.61 L51.67,287.72 L52.56,287.83 L53.45,287.96 L54.34,288.09 L55.23,288.23 L56.11,288.37 L57.00,288.53 L57.88,288.69 L58.76,288.86 L59.64,289.04 L60.52,289.22 L61.39,289.42 L62.26,289.63 L63.13,289.84 L63.99,290.06 L64.85,290.30 L65.71,290.54 L66.57,290.79 L67.42,291.06 L68.27,291.33 L69.12,291.61 L69.96,291.91 L70.80,292.22 L71.63,292.53 L72.47,292.86 L73.29,293.20 L74.12,293.55 L74.94,293.90 L75.75,294.27 L76.56,294.65 L77.37,295.04 L78.17,295.44 L78.97,295.84 L79.77,296.26 L80.56,296.68 L81.35,297.12 L82.13,297.56 L82.91,298.01 L83.68,298.47 L84.45,298.94 L85.21,299.41 L85.97,299.90 L86.72,300.39 L87.47,300.89 L88.22,301.39 L88.96,301.91 L89.69,302.43 L90.42,302.95 L91.15,303.49 L91.87,304.03 L92.58,304.58 L93.29,305.13 L94.00,305.69 L94.70,306.25 L95.39,306.82 L96.08,307.40 L96.76,307.98 L97.44,308.57 L98.11,309.16 L98.78,309.76 L99.44,310.36 L100.09,310.97 L100.74,311.58 L101.38,312.20 L102.02,312.82 L102.66,313.45 L103.29,314.08 L103.91,314.71 L104.53,315.35 L105.14,316.00 L105.75,316.64 L106.35,317.30 L106.95,317.95 L107.54,318.61 L108.13,319.28 L108.72,319.95 L109.30,320.62 L109.87,321.29 L110.44,321.98 L111.01,322.66 L111.57,323.35 L112.13,324.04 L112.69,324.73 L113.24,325.43 L113.78,326.13 L114.33,326.84 L114.86,327.55 L115.40,328.26 L115.93,328.98 L116.46,329.69 L116.98,330.42 L117.50,331.14 L118.02,331.87 L118.53,332.60 L119.04,333.33 L119.54,334.07 L120.05,334.81 L120.55,335.55 L121.04,336.30 L121.54,337.04 L122.03,337.79 L122.52,338.54 L123.00,339.30 L123.48,340.06 L123.96,340.82 L124.44,341.58 L124.91,342.34 L125.38,343.11 L125.85,343.88 L126.32,344.65 L126.79,345.42 L127.25,346.19 L127.71,346.97 L128.17,347.75 L128.62,348.52 L129.08,349.31 L129.53,350.09 L129.98,350.87 L130.43,351.66 L130.87,352.45 L131.32,353.23 L131.76,354.02 L132.20,354.81 L132.64,355.61 L133.08,356.40 L133.52,357.20 L133.96,357.99 L134.39,358.79 L134.82,359.58 L135.26,360.38 L135.69,361.18 L136.12,361.98 L136.55,362.78 L136.98,363.58 L137.41,364.39 L137.83,365.19 L138.26,365.99 L138.69,366.79 L139.11,367.60 L139.54,368.40 L139.96,369.20 L140.39,370.01 L140.81,370.81 L141.24,371.62 L141.66,372.42 L142.09,373.22 L142.51,374.03 L142.94,374.83 L143.37,375.63 L143.80,376.43 L144.23,377.23 L144.66,378.02 L145.09,378.82 L145.53,379.61 L145.97,380.40 L146.41,381.19 L146.85,381.98 L147.30,382.76 L147.74,383.54 L148.20,384.32 L148.65,385.09 L149.11,385.86 L149.58,386.63 L150.05,387.39 L150.52,388.15 L150.99,388.91 L151.48,389.66 L151.96,390.41 L152.46,391.15 L152.95,391.88 L153.46,392.62 L153.96,393.34 L154.48,394.06 L155.00,394.78 L155.53,395.49 L156.06,396.19 L156.61,396.89 L157.15,397.58 L157.71,398.26 L158.27,398.94 L158.84,399.61 L159.42,400.27 L160.01,400.93 L160.61,401.58 L161.21,402.22 L161.82,402.85 L162.44,403.48 L163.06,404.10 L163.70,404.72 L164.34,405.32 L164.98,405.92 L165.64,406.52 L166.30,407.10 L166.96,407.68 L167.64,408.26 L168.32,408.83 L169.00,409.39 L169.69,409.94 L170.39,410.49 L171.10,411.03 L171.80,411.57 L172.52,412.10 L173.24,412.62 L173.97,413.14 L174.70,413.66 L175.43,414.16 L176.18,414.66 L176.92,415.16 L177.67,415.65 L178.43,416.13 L179.19,416.61 L179.95,417.08 L180.72,417.55 L181.49,418.01 L182.27,418.47 L183.05,418.92 L183.83,419.37 L184.62,419.81 L185.41,420.25 L186.21,420.68 L187.00,421.10 L187.80,421.53 L188.61,421.94 L189.41,422.35 L190.22,422.76 L191.03,423.16 L191.85,423.56 L192.66,423.96 L193.48,424.35 L194.30,424.73 L195.12,425.11 L195.95,425.49 L196.78,425.86 L197.60,426.23 L198.43,426.59 L199.26,426.95 L200.09,427.31 L200.93,427.66 L201.76,428.01 L202.59,428.35 L203.43,428.69 L204.27,429.03 L205.10,429.36 L205.94,429.69 L206.78,430.02 L207.62,430.34 L208.47,430.66 L209.31,430.97 L210.15,431.29 L211.00,431.60 L211.84,431.90 L212.69,432.21 L213.54,432.50 L214.39,432.80 L215.24,433.10 L216.09,433.39 L216.94,433.67 L217.79,433.96 L218.64,434.24 L219.49,434.52 L220.35,434.80 L221.20,435.07 L222.06,435.34 L222.92,435.61 L223.77,435.88 L224.63,436.14 L225.49,436.40 L226.35,436.66 L227.21,436.92 L228.07,437.17 L228.93,437.42 L229.79,437.67 L230.65,437.92 L231.52,438.17 L232.38,438.41 L233.24,438.66 L234.11,438.90 L234.97,439.13 L235.84,439.37 L236.70,439.61 L237.57,439.84 L238.44,440.07 L239.31,440.30 L240.17,440.53 L241.04,440.76 L241.91,440.99 L242.78,441.21 L243.65,441.43 L244.52,441.66 L245.39,441.88 L246.26,442.10 L247.13,442.32 L248.00,442.53 L248.87,442.75 L249.74,442.97 L250.61,443.18 L251.49,443.39 L252.36,443.61 L253.23,443.82 L254.10,444.03 L254.98,444.24 L255.85,444.46 L256.72,444.67 L257.60,444.88 L258.47,445.09 L259.34,445.29 L260.22,445.50 L261.09,445.71 L261.96,445.92 L262.84,446.13 L263.71,446.34 L264.58,446.55 L265.46,446.75 L266.33,446.96 L267.20,447.17 L268.08,447.38 L268.95,447.59 L269.82,447.80 L270.70,448.01 L271.57,448.22 L272.44,448.43 L273.32,448.64 L274.19,448.85 L275.06,449.06 L275.93,449.27 L276.80,449.49 L277.68,449.70 L278.55,449.92 L279.42,450.13 L280.29,450.35 L281.16,450.57 L282.03,450.79 L282.90,451.00 L283.77,451.23 L284.64,451.45 L285.51,451.67 L286.38,451.90 L287.25,452.12 L288.11,452.35 L288.98,452.58 L289.85,452.81 L290.71,453.04 L291.58,453.27 L292.45,453.51 L293.31,453.74 L294.18,453.98 L295.04,454.22 L295.90,454.47 L296.77,454.71 L297.63,454.96 L298.49,455.20 L299.35,455.45 L300.21,455.71 L301.07,455.96 L301.93,456.22 L302.79,456.48 L303.65,456.74 L304.51,457.00 L305.36,457.27 L306.22,457.53 L307.07,457.81 L307.93,458.08 L308.78,458.36 L309.63,458.63 L310.48,458.92 L311.34,459.20 L312.19,459.49 L313.04,459.78 L313.88,460.07 L314.73,460.37 L315.58,460.67 L316.42,460.97 L317.27,461.28 L318.11,461.58 L318.96,461.90 L319.80,462.21 L320.64,462.53 L321.48,462.85 L322.32,463.18 L323.16,463.51 L323.99,463.84 L324.83,464.18" fill="none" stroke="#14c8c8" stroke-width="2.3" stroke-linejoin="round" stroke-linecap="round"/>
<line x1="243" y1="294.2" x2="274.4" y2="294.2" stroke="#141414" stroke-width="2.2" />
<text class="l" x="277.3" y="298.9" font-family='"Liberation Serif", serif' font-size="13.15" font-weight="normal" text-anchor="start">C<tspan font-size="9.3" dy="3.2"></tspan></text>
<line x1="243" y1="310.7" x2="274.4" y2="310.7" stroke="#e8141e" stroke-width="2.2" />
<text class="l" x="277.3" y="315.4" font-family='"Liberation Serif", serif' font-size="13.15" font-weight="normal" text-anchor="start">C-FeCl<tspan font-size="9.3" dy="3.2">3</tspan></text>
<line x1="243" y1="330.1" x2="274.4" y2="330.1" stroke="#0a46c8" stroke-width="2.2" />
<text class="l" x="277.3" y="334.8" font-family='"Liberation Serif", serif' font-size="13.15" font-weight="normal" text-anchor="start">C-MnCl<tspan font-size="9.3" dy="3.2">2</tspan></text>
<line x1="243" y1="349.3" x2="274.4" y2="349.3" stroke="#139650" stroke-width="2.2" />
<text class="l" x="277.3" y="354" font-family='"Liberation Serif", serif' font-size="13.15" font-weight="normal" text-anchor="start">C-NiCl<tspan font-size="9.3" dy="3.2">2</tspan></text>
<line x1="243" y1="368.8" x2="274.4" y2="368.8" stroke="#a055dc" stroke-width="2.2" />
<text class="l" x="277.3" y="373.5" font-family='"Liberation Serif", serif' font-size="13.15" font-weight="normal" text-anchor="start">C-CuCl<tspan font-size="9.3" dy="3.2">2</tspan></text>
<line x1="243" y1="388.2" x2="274.4" y2="388.2" stroke="#c88c0a" stroke-width="2.2" />
<text class="l" x="277.3" y="392.9" font-family='"Liberation Serif", serif' font-size="13.15" font-weight="normal" text-anchor="start">C-ZnCl<tspan font-size="9.3" dy="3.2">2</tspan></text>
<line x1="243" y1="407.5" x2="274.4" y2="407.5" stroke="#14c8c8" stroke-width="2.2" />
<text class="l" x="277.3" y="412.2" font-family='"Liberation Serif", serif' font-size="13.15" font-weight="normal" text-anchor="start">C-CoCl<tspan font-size="9.3" dy="3.2">2</tspan></text>
<line x1="384.3" y1="285.5" x2="675.2" y2="285.5" stroke="#111" stroke-width="1.6" />
<line x1="385.1" y1="285.5" x2="385.1" y2="519.7" stroke="#111" stroke-width="1.6" />
<line x1="674.4" y1="285.5" x2="674.4" y2="519.7" stroke="#111" stroke-width="1.6" />
<line x1="384.3" y1="518.9" x2="675.2" y2="518.9" stroke="#111" stroke-width="1.6" />
<line x1="416.82" y1="518.9" x2="416.82" y2="523.1" stroke="#111" stroke-width="1.6" />
<text x="417.12" y="535.9" font-family='"Liberation Serif", serif' font-size="11.2" font-weight="normal" text-anchor="middle" fill="#000" textLength="16.2" lengthAdjust="spacingAndGlyphs" >200</text>
<line x1="481.06" y1="518.9" x2="481.06" y2="523.1" stroke="#111" stroke-width="1.6" />
<text x="481.36" y="535.9" font-family='"Liberation Serif", serif' font-size="11.2" font-weight="normal" text-anchor="middle" fill="#000" textLength="16.2" lengthAdjust="spacingAndGlyphs" >400</text>
<line x1="545.3" y1="518.9" x2="545.3" y2="523.1" stroke="#111" stroke-width="1.6" />
<text x="545.6" y="535.9" font-family='"Liberation Serif", serif' font-size="11.2" font-weight="normal" text-anchor="middle" fill="#000" textLength="16.2" lengthAdjust="spacingAndGlyphs" >600</text>
<line x1="609.54" y1="518.9" x2="609.54" y2="523.1" stroke="#111" stroke-width="1.6" />
<text x="609.84" y="535.9" font-family='"Liberation Serif", serif' font-size="11.2" font-weight="normal" text-anchor="middle" fill="#000" textLength="16.2" lengthAdjust="spacingAndGlyphs" >800</text>
<line x1="673.78" y1="518.9" x2="673.78" y2="523.1" stroke="#111" stroke-width="1.6" />
<text x="673.38" y="535.9" font-family='"Liberation Serif", serif' font-size="11.2" font-weight="normal" text-anchor="middle" fill="#000" textLength="21.2" lengthAdjust="spacingAndGlyphs" >1000</text>
<line x1="384.7" y1="518.9" x2="384.7" y2="521.7" stroke="#111" stroke-width="1.6" />
<line x1="448.94" y1="518.9" x2="448.94" y2="521.7" stroke="#111" stroke-width="1.6" />
<line x1="513.18" y1="518.9" x2="513.18" y2="521.7" stroke="#111" stroke-width="1.6" />
<line x1="577.42" y1="518.9" x2="577.42" y2="521.7" stroke="#111" stroke-width="1.6" />
<line x1="641.66" y1="518.9" x2="641.66" y2="521.7" stroke="#111" stroke-width="1.6" />
<text class="b" x="530" y="553.2" font-family='"Liberation Serif", serif' font-size="13" font-weight="bold" text-anchor="middle" fill="#000" textLength="100" lengthAdjust="spacingAndGlyphs" >Temperature (°C)</text>
<text class="b" x="355.6" y="288.9" font-family='"Liberation Serif", serif' font-size="14.5" font-weight="bold" text-anchor="start" fill="#000" >(d)</text>
<path d="M385.50,303.19 L387.19,304.07 L388.68,304.36 L390.02,304.19 L391.27,303.69 L392.47,303.00 L393.67,302.24 L394.92,301.56 L396.26,301.06 L397.70,300.80 L399.19,300.75 L400.68,300.88 L402.15,301.18 L403.54,301.62 L404.83,302.18 L406.00,302.85 L407.08,303.63 L408.07,304.50 L408.98,305.46 L409.81,306.49 L410.57,307.59 L411.28,308.76 L411.94,309.97 L412.56,311.24 L413.14,312.53 L413.70,313.86 L414.25,315.21 L414.79,316.57 L415.32,317.93 L415.87,319.29 L416.44,320.63 L417.02,321.97 L417.62,323.29 L418.23,324.60 L418.86,325.90 L419.50,327.18 L420.15,328.46 L420.81,329.73 L421.49,331.00 L422.17,332.25 L422.86,333.50 L423.56,334.74 L424.26,335.98 L424.97,337.21 L425.68,338.44 L426.39,339.66 L427.11,340.88 L427.82,342.10 L428.54,343.32 L429.25,344.54 L429.96,345.75 L430.67,346.97 L431.37,348.19 L432.07,349.41 L432.76,350.64 L433.44,351.86 L434.11,353.09 L434.78,354.33 L435.43,355.57 L436.07,356.82 L436.69,358.07 L437.30,359.33 L437.90,360.60 L438.48,361.88 L439.04,363.16 L439.59,364.46 L440.12,365.76 L440.64,367.07 L441.14,368.39 L441.64,369.71 L442.12,371.04 L442.59,372.38 L443.05,373.72 L443.50,375.06 L443.95,376.41 L444.39,377.76 L444.82,379.12 L445.25,380.47 L445.68,381.83 L446.11,383.19 L446.53,384.55 L446.95,385.91 L447.38,387.27 L447.80,388.63 L448.23,389.99 L448.67,391.35 L449.10,392.70 L449.54,394.05 L449.98,395.40 L450.43,396.75 L450.87,398.10 L451.32,399.44 L451.76,400.79 L452.21,402.14 L452.65,403.48 L453.10,404.82 L453.54,406.17 L453.98,407.51 L454.42,408.86 L454.85,410.20 L455.28,411.55 L455.70,412.89 L456.12,414.24 L456.54,415.59 L456.95,416.94 L457.35,418.29 L457.74,419.64 L458.13,420.99 L458.51,422.35 L458.88,423.71 L459.24,425.07 L459.59,426.43 L459.93,427.80 L460.26,429.17 L460.58,430.54 L460.89,431.91 L461.19,433.29 L461.48,434.67 L461.76,436.05 L462.03,437.44 L462.30,438.83 L462.56,440.22 L462.81,441.61 L463.07,443.00 L463.32,444.39 L463.57,445.79 L463.82,447.18 L464.06,448.58 L464.31,449.97 L464.57,451.37 L464.82,452.76 L465.09,454.16 L465.35,455.55 L465.62,456.95 L465.90,458.34 L466.19,459.73 L466.49,461.12 L466.80,462.51 L467.12,463.89 L467.45,465.28 L467.79,466.66 L468.15,468.04 L468.52,469.41 L468.91,470.79 L469.32,472.16 L469.73,473.52 L470.14,474.88 L470.56,476.24 L470.97,477.58 L471.36,478.92 L471.75,480.26 L472.11,481.58 L472.47,482.90 L472.82,484.22 L473.18,485.54 L473.54,486.86 L473.93,488.18 L474.33,489.51 L474.77,490.85 L475.24,492.20 L475.75,493.56 L476.32,494.94 L476.94,496.34 L477.62,497.75 L478.37,499.16 L479.18,500.49 L480.05,501.68 L480.97,502.68 L481.95,503.42 L482.98,503.84 L484.05,503.87 L485.15,503.52 L486.26,502.84 L487.35,501.90 L488.38,500.76 L489.34,499.49 L490.20,498.17 L490.93,496.83 L491.55,495.50 L492.08,494.17 L492.55,492.84 L492.98,491.51 L493.39,490.18 L493.79,488.84 L494.19,487.50 L494.58,486.16 L494.96,484.82 L495.34,483.47 L495.71,482.11 L496.07,480.76 L496.44,479.40 L496.79,478.04 L497.14,476.68 L497.49,475.32 L497.83,473.95 L498.17,472.58 L498.50,471.21 L498.83,469.83 L499.16,468.46 L499.48,467.08 L499.80,465.70 L500.12,464.32 L500.43,462.94 L500.74,461.56 L501.05,460.18 L501.36,458.79 L501.66,457.41 L501.97,456.02 L502.27,454.63 L502.57,453.24 L502.87,451.86 L503.17,450.47 L503.47,449.08 L503.77,447.69 L504.07,446.30 L504.37,444.91 L504.67,443.52 L504.97,442.14 L505.27,440.75 L505.57,439.36 L505.88,437.97 L506.18,436.59 L506.49,435.20 L506.80,433.82 L507.11,432.43 L507.42,431.05 L507.73,429.67 L508.05,428.29 L508.36,426.91 L508.68,425.53 L509.01,424.15 L509.33,422.77 L509.66,421.40 L509.99,420.02 L510.32,418.65 L510.66,417.28 L511.00,415.91 L511.34,414.54 L511.69,413.18 L512.04,411.81 L512.39,410.45 L512.75,409.08 L513.11,407.72 L513.47,406.36 L513.84,405.01 L514.22,403.65 L514.59,402.30 L514.98,400.95 L515.36,399.60 L515.76,398.25 L516.15,396.91 L516.55,395.56 L516.96,394.22 L517.38,392.87 L517.80,391.53 L518.24,390.19 L518.68,388.84 L519.13,387.50 L519.59,386.15 L520.06,384.81 L520.54,383.47 L521.03,382.13 L521.54,380.79 L522.05,379.46 L522.59,378.14 L523.13,376.82 L523.69,375.51 L524.27,374.21 L524.86,372.91 L525.46,371.63 L526.09,370.35 L526.73,369.09 L527.39,367.83 L528.07,366.59 L528.77,365.36 L529.49,364.15 L530.22,362.95 L530.98,361.77 L531.77,360.60 L532.57,359.46 L533.39,358.32 L534.24,357.21 L535.11,356.11 L535.99,355.02 L536.90,353.95 L537.82,352.89 L538.75,351.84 L539.70,350.80 L540.67,349.78 L541.64,348.76 L542.63,347.75 L543.62,346.74 L544.63,345.75 L545.64,344.75 L546.66,343.76 L547.69,342.78 L548.72,341.80 L549.76,340.82 L550.79,339.84 L551.83,338.86 L552.88,337.88 L553.92,336.91 L554.97,335.94 L556.03,334.98 L557.09,334.02 L558.16,333.07 L559.23,332.13 L560.31,331.21 L561.40,330.29 L562.49,329.39 L563.60,328.50 L564.71,327.63 L565.83,326.77 L566.97,325.93 L568.11,325.11 L569.26,324.31 L570.43,323.53 L571.61,322.78 L572.80,322.04 L574.00,321.32 L575.21,320.63 L576.44,319.95 L577.67,319.29 L578.91,318.64 L580.17,318.01 L581.43,317.40 L582.70,316.79 L583.98,316.20 L585.26,315.62 L586.56,315.06 L587.86,314.50 L589.17,313.95 L590.48,313.41 L591.80,312.87 L593.13,312.34 L594.46,311.82 L595.80,311.30 L597.14,310.78 L598.49,310.27 L599.83,309.75 L601.19,309.24 L602.54,308.73 L603.90,308.24 L605.26,307.76 L606.63,307.30 L607.99,306.88 L609.36,306.49 L610.73,306.14 L612.10,305.85 L613.47,305.60 L614.84,305.42 L616.21,305.30 L617.59,305.26 L618.96,305.30 L620.33,305.42 L621.71,305.64 L623.08,305.94 L624.45,306.32 L625.81,306.77 L627.16,307.27 L628.51,307.81 L629.84,308.38 L631.16,308.96 L632.46,309.57 L633.75,310.19 L635.03,310.83 L636.30,311.48 L637.55,312.15 L638.79,312.84 L640.01,313.54 L641.23,314.26 L642.44,314.99 L643.63,315.73 L644.81,316.49 L645.99,317.27 L647.15,318.06 L648.30,318.87 L649.45,319.68 L650.58,320.52 L651.71,321.36 L652.83,322.22 L653.94,323.10 L655.04,323.98 L656.14,324.88 L657.23,325.79 L658.31,326.71 L659.39,327.63 L660.47,328.56 L661.55,329.49 L662.62,330.42 L663.69,331.35 L664.76,332.29 L665.83,333.22 L666.91,334.14 L667.98,335.06 L669.06,335.98 L670.14,336.88 L671.23,337.77 L672.37,338.52 L674.00,338.20" fill="none" stroke="#141414" stroke-width="2.3" stroke-linejoin="round" stroke-linecap="round"/>
<path d="M385.52,303.54 L386.75,303.77 L388.00,304.02 L389.28,304.29 L390.57,304.59 L391.87,304.92 L393.16,305.28 L394.46,305.68 L395.74,306.12 L397.00,306.60 L398.24,307.13 L399.45,307.70 L400.63,308.33 L401.76,309.01 L402.84,309.75 L403.87,310.55 L404.84,311.41 L405.74,312.34 L406.57,313.34 L407.35,314.39 L408.08,315.48 L408.78,316.61 L409.45,317.77 L410.11,318.93 L410.76,320.11 L411.43,321.27 L412.11,322.42 L412.80,323.55 L413.51,324.67 L414.23,325.79 L414.95,326.89 L415.67,327.99 L416.39,329.09 L417.11,330.19 L417.81,331.30 L418.50,332.42 L419.17,333.55 L419.83,334.69 L420.47,335.84 L421.10,337.00 L421.71,338.16 L422.33,339.33 L422.93,340.51 L423.53,341.69 L424.13,342.87 L424.73,344.05 L425.33,345.23 L425.94,346.41 L426.55,347.58 L427.17,348.75 L427.80,349.92 L428.44,351.08 L429.09,352.23 L429.77,353.37 L430.45,354.50 L431.15,355.62 L431.86,356.74 L432.58,357.85 L433.30,358.96 L434.03,360.06 L434.77,361.17 L435.50,362.27 L436.24,363.37 L436.97,364.47 L437.70,365.57 L438.43,366.68 L439.14,367.79 L439.85,368.90 L440.55,370.02 L441.24,371.14 L441.91,372.28 L442.57,373.42 L443.21,374.57 L443.84,375.72 L444.45,376.89 L445.05,378.06 L445.64,379.23 L446.22,380.42 L446.79,381.60 L447.35,382.80 L447.91,383.99 L448.45,385.20 L448.99,386.40 L449.52,387.61 L450.05,388.82 L450.57,390.04 L451.09,391.25 L451.60,392.47 L452.12,393.69 L452.63,394.91 L453.14,396.14 L453.65,397.36 L454.16,398.58 L454.68,399.80 L455.19,401.02 L455.71,402.24 L456.24,403.46 L456.77,404.67 L457.30,405.88 L457.84,407.09 L458.39,408.30 L458.93,409.51 L459.48,410.71 L460.03,411.92 L460.57,413.13 L461.11,414.33 L461.65,415.54 L462.18,416.75 L462.70,417.96 L463.21,419.18 L463.71,420.40 L464.21,421.62 L464.68,422.85 L465.15,424.08 L465.59,425.32 L466.02,426.57 L466.43,427.82 L466.83,429.08 L467.19,430.35 L467.54,431.62 L467.87,432.91 L468.18,434.19 L468.48,435.49 L468.77,436.78 L469.05,438.09 L469.33,439.39 L469.60,440.69 L469.87,442.00 L470.14,443.30 L470.42,444.61 L470.71,445.91 L471.01,447.20 L471.32,448.50 L471.65,449.78 L471.99,451.06 L472.36,452.34 L472.75,453.60 L473.17,454.86 L473.62,456.10 L474.10,457.34 L474.62,458.56 L475.17,459.77 L475.77,460.97 L476.41,462.15 L477.09,463.32 L477.82,464.46 L478.60,465.59 L479.44,466.67 L480.34,467.64 L481.29,468.46 L482.32,469.07 L483.41,469.42 L484.57,469.45 L485.78,469.17 L487.01,468.62 L488.21,467.85 L489.34,466.90 L490.35,465.83 L491.20,464.69 L491.90,463.50 L492.47,462.29 L492.97,461.05 L493.43,459.80 L493.88,458.55 L494.33,457.30 L494.77,456.05 L495.21,454.80 L495.65,453.55 L496.09,452.29 L496.52,451.04 L496.95,449.79 L497.38,448.53 L497.80,447.28 L498.22,446.02 L498.64,444.77 L499.05,443.51 L499.46,442.26 L499.87,441.00 L500.27,439.74 L500.67,438.48 L501.07,437.22 L501.46,435.96 L501.84,434.70 L502.23,433.43 L502.61,432.17 L502.98,430.91 L503.35,429.64 L503.72,428.37 L504.08,427.11 L504.44,425.84 L504.80,424.57 L505.15,423.30 L505.49,422.02 L505.83,420.75 L506.17,419.48 L506.50,418.20 L506.83,416.92 L507.15,415.64 L507.47,414.36 L507.78,413.08 L508.09,411.80 L508.39,410.52 L508.69,409.23 L508.98,407.94 L509.27,406.66 L509.55,405.37 L509.84,404.08 L510.12,402.79 L510.41,401.50 L510.69,400.21 L510.98,398.92 L511.27,397.63 L511.57,396.34 L511.86,395.06 L512.17,393.78 L512.48,392.49 L512.80,391.21 L513.13,389.94 L513.47,388.66 L513.81,387.39 L514.17,386.12 L514.54,384.85 L514.93,383.59 L515.33,382.34 L515.74,381.08 L516.17,379.83 L516.61,378.59 L517.06,377.34 L517.51,376.10 L517.97,374.86 L518.43,373.62 L518.89,372.38 L519.34,371.13 L519.79,369.89 L520.23,368.64 L520.67,367.40 L521.12,366.15 L521.58,364.92 L522.06,363.71 L522.58,362.51 L523.13,361.34 L523.73,360.19 L524.38,359.07 L525.10,357.99 L525.88,356.94 L526.71,355.92 L527.59,354.94 L528.51,353.98 L529.47,353.06 L530.46,352.15 L531.48,351.27 L532.51,350.41 L533.56,349.57 L534.61,348.74 L535.67,347.93 L536.72,347.13 L537.76,346.34 L538.79,345.56 L539.82,344.78 L540.86,344.02 L541.93,343.26 L543.02,342.51 L544.16,341.76 L545.34,341.02 L546.58,340.30 L547.86,339.61 L549.16,338.97 L550.48,338.41 L551.79,337.93 L553.09,337.56 L554.37,337.33 L555.60,337.24 L556.79,337.32 L557.90,337.59 L558.95,338.05 L559.92,338.68 L560.83,339.47 L561.67,340.39 L562.44,341.43 L563.16,342.58 L563.82,343.80 L564.43,345.10 L564.98,346.44 L565.48,347.81 L565.93,349.19 L566.34,350.57 L566.71,351.94 L567.06,353.30 L567.40,354.65 L567.73,355.97 L568.07,357.27 L568.42,358.55 L568.80,359.79 L569.21,360.99 L569.67,362.15 L570.18,363.27 L570.76,364.33 L571.41,365.34 L572.14,366.29 L572.98,367.18 L573.91,368.01 L574.96,368.76 L576.10,369.46 L577.29,370.14 L578.48,370.84 L579.62,371.60 L580.66,372.44 L581.62,373.38 L582.48,374.40 L583.29,375.48 L584.04,376.61 L584.75,377.77 L585.45,378.94 L586.14,380.12 L586.84,381.29 L587.57,382.42 L588.33,383.51 L589.16,384.55 L590.05,385.51 L591.04,386.38 L592.12,387.15 L593.31,387.79 L594.57,388.26 L595.82,388.50 L597.02,388.47 L598.11,388.11 L599.11,387.50 L600.03,386.70 L600.90,385.78 L601.74,384.82 L602.55,383.83 L603.34,382.80 L604.11,381.75 L604.86,380.68 L605.59,379.58 L606.31,378.46 L607.01,377.32 L607.71,376.17 L608.39,375.01 L609.06,373.84 L609.74,372.66 L610.40,371.47 L611.07,370.28 L611.74,369.10 L612.41,367.91 L613.09,366.73 L613.77,365.55 L614.47,364.39 L615.17,363.23 L615.89,362.10 L616.63,360.97 L617.38,359.87 L618.15,358.79 L618.95,357.73 L619.77,356.70 L620.61,355.70 L621.49,354.73 L622.39,353.79 L623.32,352.89 L624.28,352.02 L625.26,351.17 L626.27,350.36 L627.31,349.58 L628.36,348.83 L629.44,348.11 L630.54,347.42 L631.66,346.75 L632.80,346.12 L633.96,345.51 L635.14,344.94 L636.33,344.38 L637.54,343.86 L638.76,343.36 L640.00,342.89 L641.25,342.44 L642.51,342.02 L643.79,341.63 L645.07,341.26 L646.36,340.91 L647.66,340.59 L648.97,340.29 L650.28,340.01 L651.60,339.76 L652.92,339.52 L654.25,339.31 L655.58,339.12 L656.91,338.96 L658.24,338.81 L659.57,338.68 L660.90,338.57 L662.23,338.48 L663.56,338.41 L664.88,338.36 L666.19,338.33 L667.50,338.32 L668.80,338.32 L670.10,338.34 L671.38,338.37 L672.66,338.42 L673.92,338.49" fill="none" stroke="#e8141e" stroke-width="2.3" stroke-linejoin="round" stroke-linecap="round"/>
<path d="M385.44,301.40 L386.81,301.44 L388.16,301.53 L389.50,301.66 L390.83,301.84 L392.15,302.05 L393.45,302.31 L394.74,302.60 L396.01,302.94 L397.28,303.31 L398.53,303.72 L399.76,304.16 L400.99,304.64 L402.20,305.15 L403.39,305.69 L404.57,306.27 L405.74,306.87 L406.90,307.50 L408.04,308.17 L409.17,308.85 L410.29,309.57 L411.39,310.31 L412.47,311.07 L413.55,311.85 L414.61,312.66 L415.65,313.49 L416.68,314.34 L417.70,315.20 L418.70,316.09 L419.69,316.99 L420.66,317.90 L421.62,318.83 L422.57,319.78 L423.50,320.73 L424.41,321.70 L425.31,322.68 L426.20,323.67 L427.07,324.67 L427.93,325.68 L428.77,326.71 L429.60,327.74 L430.42,328.78 L431.22,329.84 L432.00,330.90 L432.77,331.98 L433.53,333.06 L434.27,334.16 L435.00,335.26 L435.71,336.37 L436.41,337.49 L437.10,338.62 L437.77,339.76 L438.43,340.91 L439.07,342.06 L439.70,343.23 L440.31,344.40 L440.91,345.58 L441.49,346.76 L442.06,347.96 L442.62,349.16 L443.16,350.36 L443.69,351.58 L444.21,352.80 L444.71,354.02 L445.19,355.25 L445.67,356.49 L446.12,357.74 L446.57,358.99 L447.00,360.24 L447.42,361.50 L447.82,362.77 L448.21,364.04 L448.58,365.31 L448.94,366.59 L449.29,367.87 L449.62,369.16 L449.94,370.45 L450.24,371.74 L450.54,373.04 L450.81,374.34 L451.08,375.64 L451.34,376.95 L451.58,378.26 L451.81,379.57 L452.04,380.88 L452.25,382.20 L452.46,383.52 L452.65,384.84 L452.85,386.16 L453.03,387.48 L453.21,388.80 L453.38,390.13 L453.55,391.45 L453.71,392.78 L453.87,394.10 L454.03,395.43 L454.19,396.76 L454.34,398.08 L454.49,399.41 L454.65,400.73 L454.80,402.05 L454.95,403.38 L455.11,404.70 L455.26,406.02 L455.42,407.34 L455.59,408.65 L455.75,409.97 L455.93,411.28 L456.10,412.59 L456.29,413.90 L456.48,415.21 L456.67,416.51 L456.88,417.81 L457.09,419.10 L457.31,420.40 L457.54,421.68 L457.78,422.97 L458.03,424.25 L458.29,425.53 L458.56,426.81 L458.83,428.08 L459.11,429.36 L459.39,430.63 L459.67,431.91 L459.96,433.18 L460.25,434.46 L460.54,435.74 L460.83,437.02 L461.12,438.30 L461.40,439.59 L461.68,440.88 L461.96,442.18 L462.23,443.48 L462.49,444.79 L462.75,446.10 L463.00,447.42 L463.24,448.75 L463.47,450.09 L463.69,451.44 L463.90,452.79 L464.09,454.16 L464.28,455.53 L464.45,456.91 L464.63,458.29 L464.81,459.67 L465.01,461.04 L465.22,462.40 L465.47,463.74 L465.74,465.06 L466.06,466.36 L466.43,467.62 L466.84,468.86 L467.32,470.05 L467.87,471.20 L468.49,472.31 L469.18,473.36 L469.97,474.36 L470.85,475.30 L471.82,476.18 L472.88,476.98 L474.01,477.71 L475.20,478.35 L476.43,478.90 L477.69,479.34 L478.97,479.68 L480.25,479.91 L481.53,480.01 L482.78,479.98 L483.99,479.82 L485.16,479.51 L486.26,479.06 L487.30,478.48 L488.27,477.76 L489.16,476.93 L489.98,475.99 L490.72,474.94 L491.40,473.81 L492.02,472.61 L492.60,471.35 L493.12,470.04 L493.61,468.69 L494.07,467.32 L494.50,465.95 L494.91,464.57 L495.30,463.21 L495.69,461.86 L496.05,460.51 L496.41,459.17 L496.75,457.85 L497.09,456.52 L497.41,455.21 L497.72,453.90 L498.03,452.60 L498.33,451.30 L498.62,450.01 L498.90,448.72 L499.18,447.43 L499.45,446.15 L499.72,444.86 L499.99,443.58 L500.26,442.30 L500.52,441.02 L500.79,439.74 L501.05,438.46 L501.32,437.18 L501.58,435.90 L501.85,434.62 L502.12,433.33 L502.38,432.05 L502.65,430.76 L502.92,429.48 L503.19,428.19 L503.46,426.90 L503.73,425.62 L504.01,424.33 L504.28,423.04 L504.56,421.75 L504.83,420.46 L505.11,419.17 L505.39,417.88 L505.68,416.59 L505.96,415.30 L506.24,414.01 L506.53,412.72 L506.82,411.42 L507.11,410.13 L507.41,408.84 L507.70,407.55 L508.00,406.25 L508.30,404.96 L508.60,403.67 L508.91,402.37 L509.21,401.08 L509.52,399.79 L509.84,398.49 L510.15,397.20 L510.47,395.90 L510.79,394.61 L511.11,393.32 L511.44,392.02 L511.77,390.73 L512.11,389.44 L512.44,388.14 L512.78,386.85 L513.13,385.56 L513.47,384.26 L513.82,382.97 L514.18,381.68 L514.54,380.39 L514.90,379.10 L515.27,377.81 L515.65,376.52 L516.03,375.24 L516.44,373.97 L516.85,372.71 L517.29,371.45 L517.74,370.20 L518.21,368.97 L518.71,367.75 L519.23,366.55 L519.78,365.36 L520.36,364.19 L520.97,363.04 L521.61,361.91 L522.29,360.80 L523.01,359.72 L523.77,358.66 L524.56,357.62 L525.38,356.60 L526.22,355.60 L527.08,354.61 L527.95,353.62 L528.84,352.65 L529.73,351.68 L530.65,350.72 L531.57,349.77 L532.51,348.83 L533.45,347.90 L534.41,346.98 L535.38,346.06 L536.35,345.15 L537.34,344.25 L538.33,343.36 L539.33,342.47 L540.34,341.59 L541.35,340.71 L542.37,339.84 L543.40,338.98 L544.43,338.12 L545.46,337.27 L546.50,336.42 L547.54,335.58 L548.58,334.74 L549.63,333.91 L550.68,333.08 L551.73,332.25 L552.78,331.43 L553.83,330.62 L554.88,329.80 L555.94,329.00 L557.00,328.19 L558.06,327.40 L559.12,326.61 L560.19,325.82 L561.26,325.04 L562.33,324.27 L563.40,323.50 L564.48,322.74 L565.56,321.99 L566.65,321.24 L567.74,320.50 L568.83,319.77 L569.93,319.04 L571.03,318.32 L572.14,317.61 L573.25,316.91 L574.36,316.22 L575.48,315.53 L576.61,314.85 L577.74,314.18 L578.88,313.52 L580.02,312.87 L581.17,312.23 L582.32,311.60 L583.48,310.98 L584.64,310.36 L585.82,309.76 L587.00,309.17 L588.18,308.58 L589.37,308.01 L590.57,307.45 L591.78,306.90 L592.99,306.36 L594.21,305.83 L595.44,305.32 L596.68,304.81 L597.92,304.32 L599.17,303.84 L600.44,303.37 L601.70,302.91 L602.98,302.47 L604.26,302.04 L605.55,301.63 L606.85,301.24 L608.15,300.86 L609.46,300.50 L610.76,300.17 L612.08,299.85 L613.39,299.56 L614.71,299.29 L616.03,299.05 L617.36,298.83 L618.68,298.64 L620.00,298.47 L621.32,298.34 L622.64,298.23 L623.97,298.16 L625.28,298.12 L626.60,298.11 L627.91,298.14 L629.22,298.20 L630.52,298.30 L631.82,298.44 L633.12,298.61 L634.40,298.83 L635.69,299.08 L636.96,299.38 L638.22,299.72 L639.48,300.10 L640.73,300.51 L641.97,300.96 L643.20,301.45 L644.41,301.98 L645.61,302.54 L646.80,303.13 L647.98,303.75 L649.14,304.41 L650.29,305.10 L651.42,305.81 L652.54,306.56 L653.63,307.33 L654.71,308.13 L655.78,308.96 L656.82,309.81 L657.84,310.69 L658.84,311.59 L659.82,312.51 L660.79,313.44 L661.75,314.37 L662.70,315.29 L663.67,316.19 L664.65,317.05 L665.66,317.87 L666.69,318.64 L667.76,319.34 L668.88,319.96 L670.04,320.50 L671.27,320.94 L672.56,321.26 L673.92,321.47" fill="none" stroke="#0a46c8" stroke-width="2.3" stroke-linejoin="round" stroke-linecap="round"/>
<path d="M385.50,306.52 L386.97,307.68 L388.35,308.32 L389.67,308.50 L390.95,308.31 L392.18,307.84 L393.39,307.17 L394.58,306.38 L395.78,305.56 L396.97,304.77 L398.18,304.08 L399.41,303.53 L400.66,303.19 L401.93,303.09 L403.21,303.20 L404.49,303.50 L405.75,303.94 L406.98,304.51 L408.17,305.17 L409.33,305.92 L410.44,306.74 L411.52,307.62 L412.57,308.56 L413.59,309.54 L414.59,310.56 L415.57,311.60 L416.52,312.66 L417.47,313.73 L418.40,314.79 L419.32,315.84 L420.23,316.88 L421.14,317.89 L422.02,318.90 L422.87,319.93 L423.65,320.99 L424.36,322.11 L425.00,323.29 L425.58,324.52 L426.13,325.77 L426.68,327.04 L427.25,328.30 L427.85,329.55 L428.49,330.77 L429.17,331.97 L429.88,333.15 L430.60,334.33 L431.34,335.50 L432.09,336.66 L432.84,337.82 L433.59,338.98 L434.33,340.14 L435.05,341.32 L435.75,342.51 L436.43,343.71 L437.08,344.92 L437.70,346.15 L438.31,347.38 L438.90,348.63 L439.48,349.88 L440.04,351.14 L440.60,352.40 L441.15,353.67 L441.71,354.93 L442.26,356.20 L442.82,357.46 L443.38,358.72 L443.95,359.97 L444.54,361.22 L445.14,362.46 L445.76,363.69 L446.39,364.91 L447.03,366.13 L447.66,367.35 L448.29,368.57 L448.91,369.80 L449.51,371.03 L450.10,372.27 L450.66,373.51 L451.21,374.77 L451.74,376.03 L452.26,377.30 L452.76,378.58 L453.24,379.86 L453.71,381.15 L454.16,382.45 L454.60,383.75 L455.03,385.06 L455.44,386.37 L455.84,387.69 L456.23,389.01 L456.61,390.34 L456.98,391.67 L457.34,393.00 L457.69,394.34 L458.03,395.69 L458.37,397.03 L458.69,398.38 L459.01,399.73 L459.33,401.08 L459.63,402.43 L459.94,403.79 L460.23,405.15 L460.53,406.50 L460.82,407.86 L461.11,409.22 L461.39,410.58 L461.68,411.94 L461.96,413.30 L462.24,414.66 L462.53,416.01 L462.81,417.37 L463.10,418.72 L463.38,420.08 L463.67,421.43 L463.97,422.77 L464.26,424.12 L464.56,425.47 L464.85,426.81 L465.15,428.15 L465.45,429.49 L465.76,430.83 L466.06,432.17 L466.36,433.51 L466.67,434.85 L466.97,436.18 L467.27,437.52 L467.58,438.86 L467.88,440.20 L468.18,441.53 L468.48,442.87 L468.78,444.21 L469.08,445.55 L469.38,446.89 L469.68,448.23 L469.97,449.57 L470.26,450.91 L470.55,452.26 L470.84,453.60 L471.13,454.95 L471.41,456.30 L471.68,457.65 L471.96,459.00 L472.23,460.36 L472.50,461.72 L472.76,463.08 L473.02,464.45 L473.27,465.81 L473.52,467.18 L473.77,468.56 L474.01,469.93 L474.24,471.31 L474.48,472.70 L474.72,474.08 L474.98,475.46 L475.25,476.84 L475.55,478.21 L475.87,479.57 L476.24,480.93 L476.64,482.27 L477.09,483.61 L477.60,484.92 L478.17,486.23 L478.80,487.51 L479.50,488.78 L480.27,489.98 L481.10,491.05 L481.98,491.91 L482.88,492.47 L483.81,492.66 L484.75,492.45 L485.67,491.89 L486.56,491.04 L487.39,489.96 L488.15,488.72 L488.84,487.36 L489.47,485.93 L490.06,484.49 L490.63,483.07 L491.18,481.69 L491.70,480.34 L492.22,479.01 L492.72,477.71 L493.20,476.42 L493.67,475.13 L494.14,473.85 L494.59,472.57 L495.04,471.29 L495.48,470.00 L495.91,468.71 L496.33,467.41 L496.75,466.11 L497.16,464.81 L497.56,463.51 L497.96,462.21 L498.35,460.90 L498.74,459.59 L499.12,458.27 L499.49,456.96 L499.86,455.64 L500.22,454.32 L500.58,453.00 L500.93,451.68 L501.28,450.35 L501.62,449.02 L501.96,447.70 L502.29,446.36 L502.62,445.03 L502.95,443.70 L503.28,442.36 L503.60,441.02 L503.92,439.69 L504.23,438.35 L504.55,437.00 L504.86,435.66 L505.17,434.32 L505.47,432.97 L505.78,431.63 L506.08,430.28 L506.38,428.94 L506.69,427.59 L506.99,426.24 L507.29,424.89 L507.59,423.54 L507.89,422.19 L508.19,420.84 L508.49,419.49 L508.79,418.14 L509.09,416.79 L509.39,415.44 L509.69,414.09 L510.00,412.74 L510.30,411.39 L510.61,410.04 L510.92,408.69 L511.23,407.34 L511.54,405.99 L511.86,404.64 L512.18,403.29 L512.50,401.95 L512.83,400.60 L513.16,399.26 L513.49,397.91 L513.82,396.57 L514.16,395.22 L514.51,393.88 L514.86,392.54 L515.21,391.20 L515.57,389.87 L515.93,388.53 L516.30,387.19 L516.68,385.86 L517.06,384.53 L517.44,383.20 L517.84,381.87 L518.24,380.54 L518.64,379.22 L519.05,377.90 L519.47,376.58 L519.90,375.26 L520.33,373.94 L520.77,372.63 L521.22,371.32 L521.68,370.01 L522.15,368.71 L522.64,367.41 L523.15,366.14 L523.69,364.88 L524.27,363.65 L524.90,362.44 L525.57,361.27 L526.30,360.14 L527.09,359.06 L527.94,358.02 L528.86,357.03 L529.84,356.08 L530.87,355.17 L531.94,354.28 L533.03,353.42 L534.15,352.57 L535.28,351.72 L536.42,350.88 L537.55,350.03 L538.66,349.17 L539.76,348.29 L540.82,347.39 L541.85,346.46 L542.87,345.53 L543.88,344.60 L544.89,343.67 L545.90,342.76 L546.93,341.87 L547.99,341.02 L549.08,340.22 L550.21,339.46 L551.38,338.77 L552.59,338.11 L553.81,337.47 L555.04,336.83 L556.26,336.18 L557.46,335.49 L558.62,334.74 L559.74,333.93 L560.83,333.08 L561.90,332.19 L562.95,331.28 L563.99,330.35 L565.03,329.43 L566.07,328.52 L567.12,327.62 L568.19,326.76 L569.28,325.95 L570.41,325.19 L571.57,324.49 L572.77,323.85 L573.99,323.25 L575.24,322.69 L576.51,322.16 L577.79,321.64 L579.08,321.14 L580.38,320.65 L581.68,320.15 L582.99,319.64 L584.28,319.11 L585.57,318.56 L586.85,317.97 L588.12,317.37 L589.38,316.75 L590.64,316.12 L591.89,315.50 L593.15,314.90 L594.41,314.30 L595.68,313.74 L596.96,313.21 L598.24,312.72 L599.54,312.28 L600.85,311.90 L602.17,311.58 L603.51,311.32 L604.86,311.11 L606.22,310.96 L607.58,310.86 L608.95,310.81 L610.33,310.81 L611.70,310.86 L613.07,310.96 L614.45,311.10 L615.81,311.28 L617.18,311.51 L618.53,311.77 L619.88,312.08 L621.21,312.42 L622.54,312.80 L623.86,313.21 L625.17,313.66 L626.47,314.14 L627.76,314.65 L629.04,315.19 L630.31,315.76 L631.57,316.35 L632.81,316.98 L634.04,317.63 L635.26,318.30 L636.47,319.00 L637.66,319.71 L638.84,320.45 L640.00,321.21 L641.15,321.98 L642.28,322.78 L643.40,323.58 L644.50,324.41 L645.59,325.24 L646.66,326.09 L647.71,326.96 L648.75,327.84 L649.77,328.74 L650.78,329.66 L651.77,330.59 L652.75,331.54 L653.71,332.51 L654.65,333.50 L655.59,334.51 L656.50,335.54 L657.40,336.59 L658.29,337.66 L659.16,338.75 L660.02,339.86 L660.87,341.00 L661.70,342.16 L662.52,343.34 L663.33,344.51 L664.16,345.67 L665.01,346.79 L665.90,347.85 L666.83,348.83 L667.81,349.71 L668.86,350.48 L669.99,351.10 L671.21,351.57 L672.53,351.86 L673.97,351.95" fill="none" stroke="#139650" stroke-width="2.3" stroke-linejoin="round" stroke-linecap="round"/>
<path d="M385.43,304.58 L386.68,304.76 L387.99,304.90 L389.36,305.01 L390.74,305.13 L392.12,305.29 L393.46,305.51 L394.75,305.82 L395.95,306.25 L397.05,306.81 L398.04,307.51 L398.94,308.32 L399.77,309.23 L400.54,310.20 L401.28,311.23 L401.99,312.28 L402.68,313.35 L403.36,314.42 L404.03,315.51 L404.69,316.61 L405.34,317.72 L405.98,318.84 L406.61,319.98 L407.22,321.11 L407.83,322.26 L408.42,323.42 L409.01,324.58 L409.59,325.75 L410.15,326.93 L410.71,328.12 L411.26,329.31 L411.80,330.50 L412.34,331.70 L412.86,332.90 L413.38,334.11 L413.89,335.32 L414.40,336.53 L414.91,337.75 L415.41,338.96 L415.92,340.17 L416.42,341.38 L416.93,342.59 L417.44,343.80 L417.95,345.00 L418.47,346.19 L419.00,347.38 L419.54,348.57 L420.08,349.74 L420.64,350.91 L421.21,352.07 L421.80,353.22 L422.40,354.36 L423.01,355.49 L423.64,356.60 L424.30,357.70 L424.97,358.79 L425.66,359.86 L426.38,360.92 L427.12,361.96 L427.89,362.98 L428.68,363.98 L429.50,364.97 L430.35,365.93 L431.23,366.88 L432.14,367.80 L433.08,368.70 L434.04,369.59 L435.01,370.47 L435.99,371.35 L436.96,372.23 L437.92,373.12 L438.86,374.02 L439.77,374.95 L440.65,375.89 L441.49,376.87 L442.27,377.88 L443.00,378.93 L443.67,380.02 L444.30,381.14 L444.89,382.28 L445.44,383.45 L445.96,384.65 L446.46,385.85 L446.94,387.07 L447.41,388.30 L447.87,389.53 L448.34,390.76 L448.80,391.99 L449.27,393.22 L449.73,394.44 L450.20,395.67 L450.66,396.89 L451.12,398.12 L451.59,399.34 L452.05,400.56 L452.51,401.79 L452.96,403.01 L453.42,404.23 L453.87,405.46 L454.31,406.68 L454.76,407.91 L455.19,409.13 L455.63,410.36 L456.05,411.58 L456.47,412.81 L456.89,414.04 L457.29,415.27 L457.69,416.51 L458.08,417.74 L458.47,418.98 L458.84,420.22 L459.21,421.46 L459.56,422.70 L459.91,423.95 L460.25,425.20 L460.57,426.45 L460.88,427.71 L461.19,428.96 L461.48,430.23 L461.75,431.49 L462.02,432.76 L462.27,434.03 L462.52,435.31 L462.76,436.58 L462.99,437.86 L463.22,439.14 L463.44,440.42 L463.66,441.71 L463.88,442.99 L464.10,444.27 L464.31,445.56 L464.53,446.84 L464.75,448.12 L464.98,449.41 L465.21,450.69 L465.44,451.97 L465.68,453.25 L465.93,454.53 L466.19,455.80 L466.46,457.08 L466.74,458.35 L467.03,459.61 L467.34,460.88 L467.66,462.14 L467.99,463.39 L468.35,464.64 L468.72,465.89 L469.11,467.13 L469.53,468.37 L469.96,469.60 L470.42,470.83 L470.91,472.04 L471.46,473.22 L472.07,474.36 L472.77,475.44 L473.57,476.45 L474.49,477.39 L475.54,478.23 L476.71,478.95 L477.97,479.55 L479.27,480.00 L480.60,480.28 L481.92,480.38 L483.19,480.27 L484.38,479.93 L485.47,479.38 L486.47,478.65 L487.40,477.79 L488.26,476.83 L489.06,475.83 L489.81,474.81 L490.52,473.75 L491.17,472.67 L491.79,471.56 L492.36,470.43 L492.89,469.28 L493.38,468.11 L493.84,466.91 L494.27,465.70 L494.67,464.48 L495.04,463.24 L495.39,461.98 L495.71,460.71 L496.02,459.44 L496.31,458.15 L496.58,456.85 L496.84,455.55 L497.09,454.24 L497.33,452.93 L497.57,451.62 L497.81,450.30 L498.04,448.99 L498.28,447.68 L498.52,446.37 L498.77,445.06 L499.03,443.77 L499.31,442.47 L499.59,441.19 L499.90,439.92 L500.22,438.66 L500.56,437.41 L500.91,436.17 L501.28,434.94 L501.65,433.71 L502.03,432.49 L502.42,431.27 L502.80,430.05 L503.19,428.84 L503.56,427.62 L503.93,426.40 L504.29,425.18 L504.64,423.95 L504.97,422.72 L505.28,421.48 L505.57,420.23 L505.83,418.96 L506.08,417.69 L506.30,416.41 L506.51,415.12 L506.71,413.83 L506.90,412.53 L507.08,411.23 L507.26,409.92 L507.44,408.62 L507.63,407.32 L507.82,406.02 L508.02,404.72 L508.23,403.42 L508.47,402.14 L508.72,400.86 L509.00,399.58 L509.30,398.32 L509.62,397.07 L509.96,395.82 L510.32,394.58 L510.70,393.34 L511.08,392.11 L511.48,390.88 L511.88,389.65 L512.28,388.42 L512.69,387.19 L513.09,385.96 L513.49,384.72 L513.89,383.49 L514.27,382.25 L514.65,381.00 L515.01,379.74 L515.36,378.48 L515.70,377.22 L516.04,375.96 L516.39,374.69 L516.73,373.43 L517.09,372.17 L517.46,370.92 L517.85,369.68 L518.26,368.45 L518.69,367.22 L519.15,366.02 L519.65,364.82 L520.18,363.65 L520.75,362.49 L521.37,361.36 L522.02,360.24 L522.71,359.15 L523.44,358.08 L524.21,357.04 L525.01,356.01 L525.84,355.02 L526.70,354.05 L527.59,353.10 L528.50,352.18 L529.44,351.28 L530.39,350.39 L531.35,349.51 L532.33,348.65 L533.31,347.79 L534.29,346.93 L535.28,346.08 L536.26,345.22 L537.23,344.36 L538.20,343.49 L539.17,342.63 L540.13,341.76 L541.09,340.88 L542.05,340.01 L543.01,339.14 L543.96,338.26 L544.92,337.39 L545.87,336.51 L546.83,335.63 L547.78,334.76 L548.74,333.88 L549.70,333.01 L550.66,332.13 L551.62,331.26 L552.59,330.39 L553.56,329.52 L554.53,328.66 L555.51,327.80 L556.49,326.94 L557.48,326.08 L558.48,325.23 L559.48,324.38 L560.48,323.54 L561.50,322.72 L562.53,321.92 L563.58,321.14 L564.63,320.38 L565.71,319.66 L566.80,318.97 L567.91,318.33 L569.04,317.72 L570.19,317.17 L571.37,316.67 L572.57,316.21 L573.79,315.79 L575.02,315.41 L576.27,315.06 L577.52,314.72 L578.79,314.40 L580.06,314.10 L581.34,313.79 L582.62,313.49 L583.90,313.18 L585.18,312.85 L586.45,312.51 L587.72,312.15 L588.99,311.78 L590.25,311.41 L591.51,311.04 L592.76,310.66 L594.02,310.29 L595.27,309.93 L596.53,309.59 L597.78,309.26 L599.03,308.94 L600.29,308.66 L601.54,308.40 L602.80,308.17 L604.06,307.98 L605.32,307.82 L606.58,307.71 L607.85,307.65 L609.13,307.63 L610.40,307.66 L611.68,307.74 L612.96,307.87 L614.24,308.04 L615.52,308.25 L616.80,308.50 L618.07,308.78 L619.35,309.11 L620.61,309.47 L621.88,309.86 L623.13,310.28 L624.38,310.73 L625.62,311.21 L626.85,311.71 L628.07,312.24 L629.28,312.79 L630.48,313.35 L631.66,313.94 L632.83,314.54 L633.98,315.16 L635.12,315.79 L636.25,316.43 L637.36,317.08 L638.47,317.74 L639.56,318.41 L640.65,319.08 L641.74,319.75 L642.82,320.42 L643.90,321.10 L644.98,321.77 L646.07,322.44 L647.16,323.11 L648.25,323.77 L649.35,324.42 L650.47,325.06 L651.59,325.69 L652.73,326.31 L653.88,326.92 L655.05,327.51 L656.22,328.09 L657.40,328.68 L658.57,329.28 L659.72,329.91 L660.86,330.57 L661.96,331.28 L663.02,332.03 L664.07,332.81 L665.11,333.60 L666.14,334.39 L667.17,335.17 L668.22,335.92 L669.29,336.62 L670.38,337.27 L671.52,337.84 L672.71,338.33 L673.96,338.71" fill="none" stroke="#a055dc" stroke-width="2.3" stroke-linejoin="round" stroke-linecap="round"/>
<path d="M385.51,305.01 L386.84,305.88 L388.14,306.42 L389.42,306.68 L390.68,306.71 L391.94,306.55 L393.20,306.27 L394.46,305.92 L395.73,305.53 L397.03,305.17 L398.33,304.85 L399.63,304.60 L400.93,304.43 L402.20,304.37 L403.45,304.44 L404.66,304.65 L405.82,305.01 L406.95,305.51 L408.04,306.13 L409.09,306.85 L410.11,307.67 L411.10,308.58 L412.06,309.55 L413.00,310.58 L413.91,311.65 L414.80,312.75 L415.67,313.87 L416.53,314.98 L417.37,316.09 L418.20,317.19 L419.02,318.27 L419.83,319.34 L420.62,320.41 L421.41,321.47 L422.19,322.52 L422.96,323.57 L423.72,324.62 L424.48,325.67 L425.23,326.72 L425.98,327.77 L426.72,328.82 L427.47,329.88 L428.21,330.95 L428.94,332.02 L429.68,333.11 L430.42,334.20 L431.15,335.30 L431.88,336.41 L432.60,337.53 L433.31,338.66 L434.01,339.80 L434.70,340.95 L435.37,342.11 L436.03,343.27 L436.67,344.45 L437.29,345.64 L437.90,346.83 L438.48,348.03 L439.03,349.25 L439.56,350.47 L440.06,351.70 L440.54,352.94 L440.99,354.19 L441.43,355.44 L441.88,356.68 L442.34,357.92 L442.83,359.14 L443.35,360.34 L443.92,361.53 L444.56,362.68 L445.25,363.81 L445.97,364.93 L446.72,366.03 L447.46,367.14 L448.20,368.25 L448.90,369.38 L449.56,370.53 L450.16,371.70 L450.71,372.90 L451.21,374.12 L451.68,375.35 L452.10,376.61 L452.50,377.87 L452.86,379.15 L453.21,380.44 L453.54,381.74 L453.85,383.04 L454.16,384.35 L454.47,385.65 L454.78,386.96 L455.09,388.26 L455.42,389.55 L455.76,390.84 L456.12,392.11 L456.49,393.38 L456.86,394.65 L457.25,395.91 L457.63,397.18 L458.01,398.44 L458.39,399.71 L458.75,400.98 L459.11,402.25 L459.45,403.53 L459.79,404.81 L460.11,406.10 L460.43,407.38 L460.74,408.68 L461.05,409.97 L461.35,411.26 L461.64,412.56 L461.93,413.86 L462.21,415.16 L462.49,416.46 L462.77,417.77 L463.05,419.07 L463.32,420.37 L463.60,421.67 L463.87,422.98 L464.14,424.28 L464.42,425.58 L464.70,426.87 L464.97,428.17 L465.26,429.47 L465.54,430.76 L465.83,432.05 L466.13,433.34 L466.43,434.62 L466.73,435.91 L467.03,437.19 L467.33,438.47 L467.64,439.75 L467.95,441.03 L468.26,442.31 L468.57,443.59 L468.89,444.87 L469.20,446.14 L469.52,447.42 L469.83,448.70 L470.15,449.98 L470.46,451.26 L470.77,452.54 L471.09,453.83 L471.40,455.11 L471.71,456.40 L472.02,457.69 L472.32,458.98 L472.63,460.27 L472.93,461.57 L473.22,462.87 L473.52,464.17 L473.81,465.48 L474.10,466.79 L474.38,468.10 L474.66,469.42 L474.94,470.74 L475.22,472.06 L475.52,473.38 L475.85,474.69 L476.24,476.00 L476.69,477.28 L477.23,478.55 L477.87,479.79 L478.61,481.00 L479.46,482.13 L480.39,483.11 L481.40,483.91 L482.46,484.46 L483.58,484.71 L484.72,484.63 L485.87,484.25 L487.00,483.65 L488.11,482.87 L489.15,481.99 L490.13,481.06 L491.04,480.07 L491.89,479.04 L492.67,477.97 L493.41,476.86 L494.09,475.71 L494.73,474.53 L495.32,473.32 L495.88,472.10 L496.41,470.85 L496.91,469.58 L497.39,468.31 L497.85,467.02 L498.29,465.73 L498.73,464.44 L499.16,463.15 L499.58,461.87 L499.99,460.58 L500.40,459.29 L500.80,458.01 L501.19,456.72 L501.58,455.44 L501.97,454.15 L502.34,452.87 L502.71,451.59 L503.08,450.30 L503.44,449.02 L503.79,447.74 L504.14,446.46 L504.49,445.18 L504.83,443.90 L505.17,442.62 L505.50,441.34 L505.83,440.06 L506.16,438.78 L506.48,437.50 L506.80,436.22 L507.11,434.94 L507.43,433.66 L507.74,432.38 L508.05,431.10 L508.35,429.82 L508.66,428.54 L508.96,427.26 L509.26,425.98 L509.56,424.70 L509.86,423.42 L510.15,422.14 L510.45,420.86 L510.75,419.58 L511.04,418.30 L511.34,417.02 L511.63,415.73 L511.93,414.45 L512.22,413.17 L512.52,411.88 L512.82,410.60 L513.12,409.31 L513.41,408.02 L513.72,406.74 L514.02,405.45 L514.32,404.16 L514.63,402.87 L514.94,401.58 L515.25,400.29 L515.56,398.99 L515.88,397.70 L516.21,396.41 L516.54,395.12 L516.88,393.83 L517.24,392.55 L517.60,391.27 L517.99,389.99 L518.39,388.73 L518.81,387.47 L519.25,386.22 L519.72,384.98 L520.21,383.75 L520.73,382.53 L521.28,381.32 L521.86,380.13 L522.47,378.95 L523.10,377.78 L523.75,376.62 L524.40,375.45 L525.03,374.29 L525.65,373.12 L526.25,371.94 L526.85,370.76 L527.44,369.57 L528.02,368.39 L528.60,367.21 L529.19,366.03 L529.78,364.86 L530.39,363.69 L531.00,362.53 L531.63,361.38 L532.29,360.24 L532.96,359.11 L533.66,357.99 L534.39,356.89 L535.13,355.80 L535.90,354.72 L536.69,353.65 L537.50,352.60 L538.33,351.56 L539.17,350.53 L540.03,349.52 L540.91,348.51 L541.81,347.52 L542.72,346.54 L543.64,345.57 L544.58,344.61 L545.52,343.67 L546.48,342.73 L547.45,341.81 L548.42,340.90 L549.41,340.00 L550.40,339.11 L551.40,338.23 L552.40,337.36 L553.41,336.50 L554.43,335.65 L555.45,334.81 L556.48,333.98 L557.51,333.16 L558.56,332.35 L559.60,331.55 L560.65,330.76 L561.71,329.97 L562.77,329.19 L563.84,328.42 L564.91,327.66 L565.99,326.90 L567.07,326.15 L568.16,325.41 L569.25,324.67 L570.35,323.94 L571.45,323.21 L572.56,322.49 L573.67,321.77 L574.78,321.06 L575.90,320.36 L577.03,319.65 L578.15,318.96 L579.28,318.26 L580.42,317.57 L581.56,316.88 L582.70,316.20 L583.84,315.51 L584.99,314.83 L586.14,314.15 L587.30,313.48 L588.46,312.81 L589.62,312.15 L590.79,311.50 L591.96,310.86 L593.14,310.23 L594.33,309.62 L595.52,309.02 L596.71,308.44 L597.91,307.88 L599.12,307.35 L600.34,306.83 L601.56,306.34 L602.79,305.88 L604.03,305.45 L605.27,305.04 L606.53,304.67 L607.79,304.33 L609.06,304.03 L610.34,303.76 L611.64,303.54 L612.94,303.35 L614.25,303.21 L615.57,303.11 L616.90,303.05 L618.24,303.03 L619.58,303.06 L620.93,303.11 L622.28,303.21 L623.62,303.33 L624.96,303.48 L626.30,303.66 L627.62,303.87 L628.94,304.10 L630.26,304.36 L631.56,304.64 L632.85,304.96 L634.13,305.30 L635.41,305.67 L636.67,306.07 L637.92,306.50 L639.15,306.96 L640.37,307.44 L641.58,307.96 L642.78,308.51 L643.96,309.09 L645.12,309.71 L646.26,310.35 L647.39,311.03 L648.50,311.74 L649.59,312.48 L650.67,313.25 L651.72,314.06 L652.75,314.91 L653.76,315.78 L654.75,316.70 L655.72,317.64 L656.67,318.62 L657.60,319.62 L658.52,320.63 L659.44,321.64 L660.35,322.66 L661.26,323.66 L662.18,324.65 L663.11,325.61 L664.05,326.54 L665.02,327.43 L666.00,328.26 L667.01,329.05 L668.05,329.76 L669.13,330.41 L670.24,330.97 L671.40,331.45 L672.61,331.80 L673.89,332.00" fill="none" stroke="#c88c0a" stroke-width="2.3" stroke-linejoin="round" stroke-linecap="round"/>
<path d="M385.49,303.57 L386.76,304.00 L388.05,304.33 L389.35,304.55 L390.66,304.71 L391.97,304.80 L393.28,304.85 L394.59,304.88 L395.90,304.90 L397.20,304.93 L398.50,305.00 L399.78,305.10 L401.04,305.28 L402.29,305.53 L403.51,305.88 L404.71,306.35 L405.88,306.93 L407.02,307.62 L408.12,308.40 L409.18,309.26 L410.19,310.20 L411.15,311.19 L412.05,312.24 L412.89,313.32 L413.66,314.44 L414.35,315.57 L414.98,316.70 L415.56,317.85 L416.12,318.99 L416.67,320.13 L417.24,321.26 L417.86,322.38 L418.53,323.49 L419.25,324.59 L419.99,325.68 L420.76,326.77 L421.54,327.86 L422.32,328.95 L423.09,330.06 L423.84,331.17 L424.56,332.29 L425.25,333.43 L425.90,334.58 L426.53,335.74 L427.14,336.91 L427.74,338.09 L428.33,339.27 L428.91,340.45 L429.49,341.63 L430.09,342.81 L430.68,343.98 L431.29,345.16 L431.90,346.33 L432.52,347.50 L433.14,348.67 L433.77,349.83 L434.40,351.00 L435.03,352.17 L435.66,353.33 L436.29,354.49 L436.91,355.66 L437.54,356.82 L438.16,357.99 L438.78,359.16 L439.39,360.32 L440.00,361.49 L440.60,362.67 L441.19,363.84 L441.78,365.02 L442.35,366.20 L442.92,367.38 L443.49,368.56 L444.04,369.75 L444.58,370.95 L445.12,372.14 L445.65,373.35 L446.17,374.55 L446.68,375.76 L447.18,376.97 L447.68,378.19 L448.17,379.41 L448.65,380.63 L449.13,381.86 L449.59,383.09 L450.05,384.32 L450.50,385.56 L450.95,386.80 L451.39,388.04 L451.82,389.28 L452.25,390.53 L452.67,391.78 L453.08,393.04 L453.49,394.29 L453.89,395.55 L454.28,396.81 L454.67,398.07 L455.06,399.34 L455.43,400.61 L455.81,401.88 L456.17,403.15 L456.54,404.42 L456.89,405.70 L457.25,406.97 L457.59,408.25 L457.94,409.53 L458.27,410.81 L458.61,412.10 L458.94,413.38 L459.26,414.67 L459.58,415.95 L459.90,417.24 L460.21,418.53 L460.52,419.82 L460.83,421.11 L461.13,422.40 L461.43,423.70 L461.73,424.99 L462.02,426.28 L462.31,427.58 L462.60,428.87 L462.88,430.17 L463.16,431.46 L463.44,432.76 L463.72,434.05 L463.99,435.35 L464.27,436.64 L464.54,437.94 L464.80,439.23 L465.07,440.53 L465.34,441.82 L465.60,443.11 L465.86,444.41 L466.12,445.70 L466.38,446.99 L466.64,448.28 L466.90,449.57 L467.16,450.86 L467.42,452.15 L467.68,453.43 L467.94,454.72 L468.21,456.00 L468.48,457.28 L468.77,458.56 L469.06,459.84 L469.37,461.11 L469.69,462.38 L470.03,463.65 L470.38,464.92 L470.76,466.18 L471.15,467.44 L471.57,468.69 L472.01,469.94 L472.48,471.19 L472.97,472.43 L473.49,473.67 L474.05,474.91 L474.64,476.13 L475.26,477.36 L475.92,478.58 L476.62,479.79 L477.35,481.00 L478.13,482.19 L478.95,483.32 L479.83,484.33 L480.75,485.16 L481.73,485.74 L482.76,486.01 L483.86,485.92 L484.99,485.49 L486.14,484.78 L487.28,483.86 L488.36,482.82 L489.37,481.70 L490.28,480.56 L491.11,479.41 L491.85,478.23 L492.52,477.04 L493.12,475.83 L493.66,474.60 L494.13,473.37 L494.56,472.12 L494.94,470.86 L495.28,469.59 L495.59,468.32 L495.87,467.03 L496.14,465.75 L496.38,464.45 L496.62,463.16 L496.86,461.86 L497.10,460.57 L497.36,459.27 L497.64,457.99 L497.94,456.70 L498.25,455.42 L498.57,454.15 L498.91,452.88 L499.26,451.61 L499.62,450.34 L499.99,449.07 L500.38,447.81 L500.77,446.55 L501.16,445.29 L501.56,444.04 L501.97,442.78 L502.38,441.52 L502.80,440.27 L503.21,439.01 L503.63,437.76 L504.04,436.50 L504.46,435.24 L504.87,433.99 L505.27,432.73 L505.67,431.47 L506.07,430.21 L506.46,428.94 L506.83,427.67 L507.20,426.40 L507.56,425.13 L507.91,423.86 L508.24,422.58 L508.56,421.29 L508.87,420.01 L509.16,418.72 L509.43,417.42 L509.70,416.12 L509.95,414.82 L510.19,413.52 L510.43,412.21 L510.66,410.91 L510.89,409.60 L511.11,408.29 L511.34,406.99 L511.57,405.68 L511.81,404.38 L512.05,403.08 L512.30,401.78 L512.56,400.49 L512.83,399.20 L513.12,397.91 L513.42,396.63 L513.74,395.36 L514.09,394.09 L514.45,392.83 L514.83,391.57 L515.24,390.33 L515.68,389.09 L516.14,387.86 L516.63,386.64 L517.14,385.42 L517.66,384.21 L518.20,383.01 L518.74,381.81 L519.30,380.61 L519.86,379.42 L520.43,378.22 L521.00,377.03 L521.56,375.84 L522.12,374.65 L522.67,373.46 L523.20,372.26 L523.71,371.05 L524.20,369.83 L524.65,368.59 L525.08,367.33 L525.49,366.07 L525.92,364.82 L526.37,363.59 L526.88,362.39 L527.46,361.23 L528.13,360.12 L528.91,359.09 L529.80,358.11 L530.76,357.19 L531.76,356.28 L532.76,355.38 L533.75,354.48 L534.73,353.56 L535.69,352.64 L536.63,351.71 L537.57,350.78 L538.49,349.84 L539.40,348.90 L540.31,347.95 L541.21,346.99 L542.10,346.04 L542.99,345.07 L543.88,344.11 L544.76,343.14 L545.64,342.17 L546.53,341.20 L547.41,340.23 L548.30,339.26 L549.20,338.28 L550.10,337.31 L551.01,336.33 L551.92,335.36 L552.84,334.40 L553.78,333.44 L554.72,332.48 L555.67,331.54 L556.63,330.60 L557.60,329.68 L558.58,328.77 L559.57,327.88 L560.57,327.01 L561.59,326.15 L562.62,325.31 L563.66,324.50 L564.72,323.71 L565.79,322.95 L566.88,322.22 L567.98,321.51 L569.10,320.83 L570.23,320.19 L571.38,319.58 L572.54,319.00 L573.72,318.45 L574.91,317.93 L576.12,317.42 L577.33,316.94 L578.55,316.47 L579.78,316.01 L581.02,315.56 L582.27,315.12 L583.52,314.68 L584.77,314.24 L586.02,313.80 L587.28,313.36 L588.54,312.91 L589.80,312.47 L591.06,312.03 L592.33,311.59 L593.60,311.16 L594.86,310.73 L596.13,310.31 L597.41,309.89 L598.68,309.49 L599.96,309.10 L601.24,308.72 L602.52,308.35 L603.80,308.00 L605.08,307.67 L606.36,307.35 L607.65,307.05 L608.94,306.77 L610.23,306.51 L611.52,306.28 L612.81,306.07 L614.10,305.88 L615.40,305.72 L616.70,305.59 L617.99,305.48 L619.29,305.41 L620.59,305.37 L621.90,305.36 L623.20,305.39 L624.50,305.45 L625.81,305.54 L627.11,305.68 L628.42,305.85 L629.72,306.06 L631.02,306.30 L632.32,306.58 L633.61,306.89 L634.89,307.24 L636.17,307.62 L637.44,308.03 L638.70,308.48 L639.95,308.96 L641.19,309.48 L642.41,310.03 L643.62,310.60 L644.82,311.21 L646.00,311.85 L647.16,312.53 L648.31,313.23 L649.43,313.96 L650.54,314.72 L651.62,315.51 L652.69,316.33 L653.72,317.18 L654.74,318.05 L655.73,318.95 L656.69,319.88 L657.64,320.81 L658.59,321.75 L659.52,322.68 L660.46,323.61 L661.41,324.51 L662.37,325.38 L663.35,326.21 L664.36,327.00 L665.40,327.73 L666.47,328.39 L667.59,328.99 L668.76,329.50 L669.98,329.93 L671.26,330.25 L672.61,330.47 L674.03,330.58" fill="none" stroke="#14c8c8" stroke-width="2.3" stroke-linejoin="round" stroke-linecap="round"/>
<line x1="589.5" y1="393.6" x2="620.5" y2="393.6" stroke="#141414" stroke-width="2.2" />
<text class="l" x="623.4" y="398.3" font-family='"Liberation Serif", serif' font-size="13.15" font-weight="normal" text-anchor="start">C<tspan font-size="9.3" dy="3.2"></tspan></text>
<line x1="589.5" y1="410.2" x2="620.5" y2="410.2" stroke="#e8141e" stroke-width="2.2" />
<text class="l" x="623.4" y="414.9" font-family='"Liberation Serif", serif' font-size="13.15" font-weight="normal" text-anchor="start">C-FeCl<tspan font-size="9.3" dy="3.2">3</tspan></text>
<line x1="589.5" y1="429.5" x2="620.5" y2="429.5" stroke="#0a46c8" stroke-width="2.2" />
<text class="l" x="623.4" y="434.2" font-family='"Liberation Serif", serif' font-size="13.15" font-weight="normal" text-anchor="start">C-MnCl<tspan font-size="9.3" dy="3.2">2</tspan></text>
<line x1="589.5" y1="448.3" x2="620.5" y2="448.3" stroke="#139650" stroke-width="2.2" />
<text class="l" x="623.4" y="453" font-family='"Liberation Serif", serif' font-size="13.15" font-weight="normal" text-anchor="start">C-NiCl<tspan font-size="9.3" dy="3.2">2</tspan></text>
<line x1="589.5" y1="467.9" x2="620.5" y2="467.9" stroke="#a055dc" stroke-width="2.2" />
<text class="l" x="623.4" y="472.6" font-family='"Liberation Serif", serif' font-size="13.15" font-weight="normal" text-anchor="start">C-CuCl<tspan font-size="9.3" dy="3.2">2</tspan></text>
<line x1="589.5" y1="487.5" x2="620.5" y2="487.5" stroke="#c88c0a" stroke-width="2.2" />
<text class="l" x="623.4" y="492.2" font-family='"Liberation Serif", serif' font-size="13.15" font-weight="normal" text-anchor="start">C-ZnCl<tspan font-size="9.3" dy="3.2">2</tspan></text>
<line x1="589.5" y1="506.9" x2="620.5" y2="506.9" stroke="#14c8c8" stroke-width="2.2" />
<text class="l" x="623.4" y="511.6" font-family='"Liberation Serif", serif' font-size="13.15" font-weight="normal" text-anchor="start">C-CoCl<tspan font-size="9.3" dy="3.2">2</tspan></text>
</svg></body></html>
